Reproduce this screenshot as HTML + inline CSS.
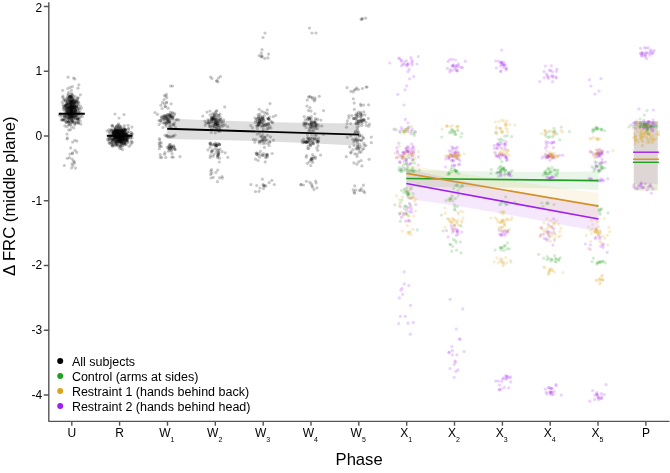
<!DOCTYPE html>
<html><head><meta charset="utf-8"><title>Phase plot</title>
<style>html,body{margin:0;padding:0;background:#fff}svg{display:block}</style>
</head><body>
<svg width="670" height="473" viewBox="0 0 670 473">
<defs><filter id="sb" x="0" y="0" width="670" height="473" filterUnits="userSpaceOnUse"><feGaussianBlur stdDeviation="0.4"/></filter></defs>
<rect width="670" height="473" fill="#fff"/>
<polygon points="167.2,118.5 215.0,120.5 263.0,122.0 311.0,122.9 359.0,123.4 359.0,145.8 311.0,143.3 263.0,141.2 215.0,139.9 167.2,138.9" fill="#000" fill-opacity="0.13"/>
<polygon points="406.3,169.7 454.4,171.1 502.4,171.8 550.5,172.0 598.5,171.5 598.5,189.9 550.5,188.3 502.4,187.4 454.4,187.1 406.3,187.3" fill="#22a022" fill-opacity="0.1"/>
<polygon points="406.3,165.0 454.4,172.5 502.4,179.7 550.5,186.4 598.5,193.1 598.5,219.1 550.5,209.4 502.4,199.7 454.4,190.5 406.3,181.6" fill="#daa520" fill-opacity="0.1"/>
<polygon points="406.3,168.5 454.4,179.4 502.4,188.9 550.5,197.8 598.5,206.5 598.5,231.5 550.5,222.4 502.4,213.6 454.4,205.4 406.3,198.5" fill="#a020f0" fill-opacity="0.1"/>
<rect x="633.8" y="121" width="23.9" height="69.5" fill="#22a022" fill-opacity="0.11"/>
<rect x="633.8" y="121" width="23.9" height="69.5" fill="#daa520" fill-opacity="0.11"/>
<rect x="633.8" y="121" width="23.9" height="62.9" fill="#a020f0" fill-opacity="0.11"/>
<g fill="#000" fill-opacity="0.215" filter="url(#sb)">
<circle cx="71.8" cy="112.1" r="1.6"/><circle cx="73.1" cy="122.0" r="1.6"/><circle cx="70.6" cy="112.8" r="1.6"/><circle cx="68.0" cy="108.9" r="1.6"/><circle cx="69.8" cy="96.4" r="1.6"/><circle cx="67.5" cy="111.3" r="1.6"/><circle cx="72.1" cy="94.5" r="1.6"/><circle cx="77.6" cy="98.4" r="1.6"/><circle cx="69.7" cy="114.7" r="1.6"/><circle cx="69.1" cy="113.6" r="1.6"/><circle cx="73.9" cy="107.4" r="1.6"/><circle cx="73.3" cy="96.2" r="1.6"/><circle cx="72.3" cy="105.8" r="1.6"/><circle cx="67.8" cy="103.6" r="1.6"/><circle cx="71.7" cy="113.1" r="1.6"/><circle cx="74.8" cy="124.8" r="1.6"/><circle cx="66.0" cy="110.1" r="1.6"/><circle cx="69.8" cy="102.9" r="1.6"/><circle cx="63.6" cy="100.1" r="1.6"/><circle cx="66.3" cy="108.1" r="1.6"/><circle cx="63.9" cy="107.2" r="1.6"/><circle cx="70.8" cy="100.2" r="1.6"/><circle cx="66.3" cy="109.3" r="1.6"/><circle cx="73.0" cy="100.2" r="1.6"/><circle cx="72.5" cy="116.5" r="1.6"/><circle cx="71.0" cy="116.2" r="1.6"/><circle cx="61.0" cy="116.3" r="1.6"/><circle cx="69.5" cy="105.1" r="1.6"/><circle cx="71.6" cy="112.2" r="1.6"/><circle cx="72.3" cy="107.5" r="1.6"/><circle cx="65.2" cy="105.7" r="1.6"/><circle cx="69.7" cy="106.1" r="1.6"/><circle cx="67.6" cy="99.1" r="1.6"/><circle cx="68.3" cy="98.1" r="1.6"/><circle cx="76.4" cy="114.2" r="1.6"/><circle cx="68.3" cy="107.1" r="1.6"/><circle cx="71.7" cy="110.1" r="1.6"/><circle cx="75.6" cy="115.7" r="1.6"/><circle cx="69.3" cy="96.0" r="1.6"/><circle cx="71.3" cy="102.9" r="1.6"/><circle cx="72.3" cy="109.8" r="1.6"/><circle cx="72.1" cy="111.3" r="1.6"/><circle cx="66.5" cy="105.8" r="1.6"/><circle cx="72.1" cy="115.9" r="1.6"/><circle cx="77.6" cy="110.0" r="1.6"/><circle cx="65.1" cy="99.8" r="1.6"/><circle cx="75.5" cy="101.8" r="1.6"/><circle cx="72.3" cy="114.3" r="1.6"/><circle cx="69.0" cy="111.8" r="1.6"/><circle cx="80.4" cy="94.8" r="1.6"/><circle cx="75.1" cy="118.2" r="1.6"/><circle cx="66.6" cy="112.8" r="1.6"/><circle cx="72.1" cy="118.2" r="1.6"/><circle cx="74.3" cy="105.7" r="1.6"/><circle cx="71.0" cy="106.4" r="1.6"/><circle cx="74.7" cy="100.4" r="1.6"/><circle cx="71.5" cy="126.8" r="1.6"/><circle cx="74.7" cy="107.2" r="1.6"/><circle cx="78.0" cy="119.9" r="1.6"/><circle cx="68.9" cy="103.8" r="1.6"/><circle cx="72.7" cy="109.7" r="1.6"/><circle cx="69.8" cy="96.5" r="1.6"/><circle cx="72.3" cy="105.7" r="1.6"/><circle cx="66.7" cy="115.6" r="1.6"/><circle cx="69.3" cy="99.5" r="1.6"/><circle cx="71.0" cy="116.2" r="1.6"/><circle cx="75.7" cy="110.9" r="1.6"/><circle cx="76.7" cy="101.0" r="1.6"/><circle cx="66.1" cy="104.9" r="1.6"/><circle cx="68.4" cy="105.2" r="1.6"/><circle cx="74.6" cy="108.1" r="1.6"/><circle cx="63.2" cy="104.6" r="1.6"/><circle cx="69.8" cy="102.5" r="1.6"/><circle cx="71.4" cy="106.3" r="1.6"/><circle cx="77.2" cy="101.1" r="1.6"/><circle cx="74.8" cy="99.2" r="1.6"/><circle cx="70.4" cy="108.2" r="1.6"/><circle cx="70.2" cy="114.9" r="1.6"/><circle cx="70.7" cy="97.5" r="1.6"/><circle cx="78.4" cy="108.5" r="1.6"/><circle cx="70.0" cy="103.8" r="1.6"/><circle cx="70.5" cy="101.5" r="1.6"/><circle cx="73.3" cy="114.6" r="1.6"/><circle cx="71.3" cy="104.8" r="1.6"/><circle cx="71.0" cy="119.3" r="1.6"/><circle cx="67.0" cy="102.9" r="1.6"/><circle cx="71.8" cy="111.3" r="1.6"/><circle cx="69.9" cy="106.9" r="1.6"/><circle cx="76.8" cy="103.1" r="1.6"/><circle cx="74.6" cy="112.7" r="1.6"/><circle cx="71.7" cy="107.4" r="1.6"/><circle cx="74.7" cy="112.8" r="1.6"/><circle cx="70.3" cy="108.2" r="1.6"/><circle cx="76.3" cy="100.7" r="1.6"/><circle cx="71.8" cy="107.8" r="1.6"/><circle cx="74.3" cy="108.9" r="1.6"/><circle cx="66.2" cy="115.4" r="1.6"/><circle cx="73.3" cy="102.0" r="1.6"/><circle cx="64.5" cy="108.2" r="1.6"/><circle cx="63.0" cy="96.1" r="1.6"/><circle cx="70.5" cy="113.2" r="1.6"/><circle cx="67.9" cy="100.7" r="1.6"/><circle cx="72.5" cy="95.5" r="1.6"/><circle cx="81.5" cy="108.1" r="1.6"/><circle cx="68.2" cy="116.5" r="1.6"/><circle cx="69.1" cy="97.5" r="1.6"/><circle cx="72.7" cy="100.7" r="1.6"/><circle cx="73.9" cy="103.1" r="1.6"/><circle cx="71.0" cy="100.4" r="1.6"/><circle cx="70.9" cy="111.2" r="1.6"/><circle cx="74.8" cy="102.7" r="1.6"/><circle cx="74.0" cy="103.3" r="1.6"/><circle cx="67.4" cy="112.7" r="1.6"/><circle cx="71.5" cy="103.1" r="1.6"/><circle cx="72.0" cy="111.6" r="1.6"/><circle cx="67.3" cy="101.5" r="1.6"/><circle cx="72.9" cy="99.8" r="1.6"/><circle cx="68.1" cy="95.3" r="1.6"/><circle cx="76.0" cy="121.9" r="1.6"/><circle cx="72.6" cy="106.2" r="1.6"/><circle cx="72.2" cy="110.3" r="1.6"/><circle cx="69.3" cy="108.3" r="1.6"/><circle cx="71.3" cy="109.7" r="1.6"/><circle cx="63.2" cy="108.9" r="1.6"/><circle cx="66.9" cy="122.2" r="1.6"/><circle cx="73.4" cy="101.0" r="1.6"/><circle cx="62.6" cy="97.3" r="1.6"/><circle cx="75.4" cy="101.2" r="1.6"/><circle cx="64.3" cy="98.9" r="1.6"/><circle cx="75.1" cy="113.9" r="1.6"/><circle cx="68.2" cy="114.4" r="1.6"/><circle cx="75.1" cy="101.6" r="1.6"/><circle cx="72.4" cy="98.5" r="1.6"/><circle cx="65.2" cy="105.9" r="1.6"/><circle cx="77.2" cy="118.5" r="1.6"/><circle cx="78.0" cy="88.2" r="1.6"/><circle cx="71.5" cy="112.3" r="1.6"/><circle cx="70.6" cy="100.8" r="1.6"/><circle cx="71.1" cy="116.0" r="1.6"/><circle cx="67.6" cy="100.7" r="1.6"/><circle cx="76.5" cy="106.4" r="1.6"/><circle cx="69.5" cy="97.7" r="1.6"/><circle cx="71.6" cy="101.5" r="1.6"/><circle cx="68.4" cy="118.5" r="1.6"/><circle cx="69.1" cy="114.4" r="1.6"/><circle cx="66.3" cy="105.6" r="1.6"/><circle cx="77.2" cy="102.2" r="1.6"/><circle cx="71.1" cy="94.9" r="1.6"/><circle cx="76.0" cy="105.7" r="1.6"/><circle cx="71.9" cy="108.3" r="1.6"/><circle cx="68.8" cy="107.9" r="1.6"/><circle cx="70.4" cy="107.8" r="1.6"/><circle cx="69.4" cy="100.4" r="1.6"/><circle cx="71.8" cy="108.0" r="1.6"/><circle cx="70.2" cy="108.2" r="1.6"/><circle cx="70.5" cy="117.8" r="1.6"/><circle cx="65.9" cy="121.9" r="1.6"/><circle cx="68.3" cy="107.5" r="1.6"/><circle cx="78.9" cy="103.0" r="1.6"/><circle cx="68.9" cy="108.0" r="1.6"/><circle cx="67.3" cy="104.1" r="1.6"/><circle cx="73.3" cy="103.2" r="1.6"/><circle cx="77.9" cy="108.1" r="1.6"/><circle cx="65.5" cy="101.0" r="1.6"/><circle cx="70.9" cy="112.9" r="1.6"/><circle cx="69.1" cy="107.8" r="1.6"/><circle cx="64.2" cy="110.3" r="1.6"/><circle cx="75.0" cy="107.2" r="1.6"/><circle cx="71.7" cy="103.3" r="1.6"/><circle cx="72.1" cy="101.7" r="1.6"/><circle cx="68.6" cy="106.8" r="1.6"/><circle cx="73.8" cy="104.5" r="1.6"/><circle cx="69.5" cy="110.2" r="1.6"/><circle cx="71.2" cy="108.5" r="1.6"/><circle cx="67.0" cy="98.7" r="1.6"/><circle cx="66.6" cy="109.0" r="1.6"/><circle cx="77.5" cy="98.8" r="1.6"/><circle cx="69.6" cy="104.1" r="1.6"/><circle cx="73.1" cy="106.4" r="1.6"/><circle cx="71.7" cy="93.6" r="1.6"/><circle cx="69.9" cy="109.2" r="1.6"/><circle cx="69.6" cy="109.6" r="1.6"/><circle cx="74.5" cy="107.4" r="1.6"/><circle cx="70.5" cy="105.4" r="1.6"/><circle cx="71.1" cy="105.8" r="1.6"/><circle cx="71.9" cy="101.5" r="1.6"/><circle cx="76.9" cy="106.6" r="1.6"/><circle cx="74.7" cy="104.5" r="1.6"/><circle cx="73.4" cy="109.2" r="1.6"/><circle cx="69.4" cy="99.8" r="1.6"/><circle cx="65.9" cy="110.2" r="1.6"/><circle cx="75.9" cy="109.5" r="1.6"/><circle cx="76.0" cy="107.5" r="1.6"/><circle cx="71.2" cy="105.3" r="1.6"/><circle cx="74.1" cy="112.5" r="1.6"/><circle cx="75.2" cy="96.5" r="1.6"/><circle cx="75.4" cy="111.8" r="1.6"/><circle cx="75.8" cy="110.2" r="1.6"/><circle cx="69.8" cy="110.5" r="1.6"/><circle cx="78.3" cy="111.3" r="1.6"/><circle cx="66.4" cy="103.8" r="1.6"/><circle cx="75.5" cy="106.6" r="1.6"/><circle cx="73.9" cy="113.1" r="1.6"/><circle cx="75.6" cy="111.6" r="1.6"/><circle cx="79.9" cy="110.0" r="1.6"/><circle cx="78.2" cy="97.6" r="1.6"/><circle cx="66.9" cy="112.4" r="1.6"/><circle cx="64.5" cy="116.9" r="1.6"/><circle cx="75.3" cy="115.8" r="1.6"/><circle cx="67.4" cy="110.2" r="1.6"/><circle cx="71.7" cy="97.3" r="1.6"/><circle cx="75.4" cy="115.3" r="1.6"/><circle cx="64.7" cy="107.4" r="1.6"/><circle cx="62.7" cy="90.3" r="1.6"/><circle cx="72.9" cy="111.2" r="1.6"/><circle cx="72.0" cy="97.8" r="1.6"/><circle cx="70.7" cy="99.2" r="1.6"/><circle cx="72.0" cy="103.9" r="1.6"/><circle cx="68.1" cy="117.7" r="1.6"/><circle cx="65.3" cy="105.8" r="1.6"/><circle cx="71.1" cy="110.5" r="1.6"/><circle cx="67.6" cy="121.1" r="1.6"/><circle cx="64.7" cy="120.0" r="1.6"/><circle cx="74.0" cy="107.8" r="1.6"/><circle cx="71.5" cy="106.8" r="1.6"/><circle cx="73.5" cy="99.4" r="1.6"/><circle cx="67.5" cy="103.5" r="1.6"/><circle cx="69.0" cy="111.6" r="1.6"/><circle cx="67.5" cy="111.3" r="1.6"/><circle cx="68.0" cy="109.3" r="1.6"/><circle cx="72.6" cy="115.7" r="1.6"/><circle cx="68.4" cy="102.9" r="1.6"/><circle cx="73.3" cy="108.1" r="1.6"/><circle cx="73.3" cy="113.8" r="1.6"/><circle cx="80.5" cy="112.7" r="1.6"/><circle cx="65.8" cy="116.2" r="1.6"/><circle cx="75.6" cy="111.4" r="1.6"/><circle cx="71.4" cy="106.3" r="1.6"/><circle cx="71.7" cy="111.1" r="1.6"/><circle cx="65.6" cy="101.3" r="1.6"/><circle cx="69.8" cy="96.7" r="1.6"/><circle cx="75.0" cy="112.7" r="1.6"/><circle cx="71.4" cy="108.1" r="1.6"/><circle cx="72.1" cy="110.7" r="1.6"/><circle cx="70.5" cy="96.3" r="1.6"/><circle cx="76.8" cy="105.9" r="1.6"/><circle cx="71.7" cy="104.2" r="1.6"/><circle cx="62.3" cy="102.3" r="1.6"/><circle cx="68.8" cy="92.3" r="1.6"/><circle cx="63.3" cy="106.1" r="1.6"/><circle cx="59.3" cy="115.0" r="1.6"/><circle cx="69.5" cy="111.2" r="1.6"/><circle cx="77.5" cy="104.2" r="1.6"/><circle cx="72.0" cy="108.4" r="1.6"/><circle cx="66.8" cy="113.9" r="1.6"/><circle cx="67.8" cy="88.6" r="1.6"/><circle cx="76.7" cy="107.6" r="1.6"/><circle cx="72.5" cy="112.4" r="1.6"/><circle cx="72.0" cy="113.4" r="1.6"/><circle cx="71.6" cy="120.7" r="1.6"/><circle cx="72.0" cy="116.7" r="1.6"/><circle cx="75.3" cy="110.8" r="1.6"/><circle cx="74.2" cy="110.7" r="1.6"/><circle cx="72.7" cy="114.2" r="1.6"/><circle cx="67.3" cy="104.6" r="1.6"/><circle cx="74.0" cy="108.2" r="1.6"/><circle cx="68.9" cy="115.0" r="1.6"/><circle cx="76.5" cy="122.6" r="1.6"/><circle cx="66.3" cy="107.4" r="1.6"/><circle cx="71.2" cy="108.2" r="1.6"/><circle cx="71.8" cy="109.9" r="1.6"/><circle cx="66.1" cy="118.2" r="1.6"/><circle cx="79.2" cy="108.3" r="1.6"/><circle cx="78.1" cy="119.1" r="1.6"/><circle cx="69.8" cy="101.5" r="1.6"/><circle cx="75.1" cy="107.2" r="1.6"/><circle cx="73.4" cy="107.1" r="1.6"/><circle cx="60.6" cy="114.2" r="1.6"/><circle cx="72.9" cy="116.0" r="1.6"/><circle cx="71.5" cy="97.6" r="1.6"/><circle cx="72.2" cy="101.9" r="1.6"/><circle cx="67.2" cy="110.9" r="1.6"/><circle cx="70.6" cy="103.8" r="1.6"/><circle cx="71.0" cy="97.5" r="1.6"/><circle cx="76.9" cy="116.0" r="1.6"/><circle cx="73.2" cy="112.1" r="1.6"/><circle cx="71.8" cy="112.1" r="1.6"/><circle cx="78.4" cy="105.1" r="1.6"/><circle cx="69.4" cy="115.9" r="1.6"/><circle cx="70.1" cy="106.8" r="1.6"/><circle cx="64.0" cy="116.4" r="1.6"/><circle cx="78.5" cy="101.9" r="1.6"/><circle cx="75.9" cy="102.4" r="1.6"/><circle cx="75.7" cy="110.0" r="1.6"/><circle cx="74.7" cy="103.4" r="1.6"/><circle cx="72.3" cy="113.4" r="1.6"/><circle cx="72.7" cy="110.4" r="1.6"/><circle cx="70.7" cy="101.9" r="1.6"/><circle cx="70.9" cy="109.0" r="1.6"/><circle cx="72.0" cy="106.0" r="1.6"/><circle cx="78.3" cy="115.1" r="1.6"/><circle cx="74.2" cy="103.9" r="1.6"/><circle cx="71.5" cy="105.3" r="1.6"/><circle cx="69.3" cy="117.2" r="1.6"/><circle cx="69.1" cy="124.6" r="1.6"/><circle cx="78.7" cy="122.9" r="1.6"/><circle cx="74.0" cy="109.0" r="1.6"/><circle cx="72.1" cy="110.1" r="1.6"/><circle cx="70.3" cy="119.5" r="1.6"/><circle cx="67.0" cy="107.6" r="1.6"/><circle cx="71.5" cy="101.5" r="1.6"/><circle cx="75.6" cy="109.3" r="1.6"/><circle cx="70.1" cy="111.8" r="1.6"/><circle cx="70.8" cy="102.5" r="1.6"/><circle cx="70.8" cy="96.6" r="1.6"/><circle cx="72.3" cy="98.2" r="1.6"/><circle cx="65.0" cy="113.3" r="1.6"/><circle cx="70.8" cy="103.0" r="1.6"/><circle cx="68.1" cy="107.5" r="1.6"/><circle cx="75.6" cy="110.0" r="1.6"/><circle cx="68.5" cy="113.0" r="1.6"/><circle cx="74.3" cy="106.1" r="1.6"/><circle cx="78.4" cy="112.1" r="1.6"/><circle cx="70.5" cy="102.1" r="1.6"/><circle cx="69.2" cy="105.9" r="1.6"/><circle cx="72.6" cy="101.1" r="1.6"/><circle cx="71.8" cy="116.6" r="1.6"/><circle cx="67.5" cy="108.3" r="1.6"/><circle cx="73.8" cy="103.2" r="1.6"/><circle cx="80.5" cy="106.0" r="1.6"/><circle cx="70.7" cy="106.9" r="1.6"/><circle cx="70.9" cy="113.5" r="1.6"/><circle cx="67.3" cy="97.0" r="1.6"/><circle cx="73.2" cy="101.0" r="1.6"/><circle cx="66.4" cy="105.8" r="1.6"/><circle cx="67.0" cy="126.7" r="1.6"/><circle cx="77.3" cy="115.4" r="1.6"/><circle cx="67.9" cy="107.7" r="1.6"/><circle cx="76.4" cy="113.6" r="1.6"/><circle cx="78.4" cy="123.3" r="1.6"/><circle cx="72.9" cy="106.8" r="1.6"/><circle cx="74.2" cy="105.9" r="1.6"/><circle cx="80.2" cy="117.2" r="1.6"/><circle cx="71.0" cy="112.1" r="1.6"/><circle cx="69.3" cy="113.3" r="1.6"/><circle cx="66.0" cy="104.8" r="1.6"/><circle cx="72.0" cy="122.4" r="1.6"/><circle cx="78.2" cy="120.8" r="1.6"/><circle cx="75.9" cy="112.6" r="1.6"/><circle cx="67.7" cy="113.4" r="1.6"/><circle cx="68.1" cy="93.9" r="1.6"/><circle cx="69.6" cy="113.1" r="1.6"/><circle cx="73.1" cy="107.1" r="1.6"/><circle cx="70.9" cy="111.6" r="1.6"/><circle cx="72.7" cy="113.4" r="1.6"/><circle cx="73.1" cy="106.0" r="1.6"/><circle cx="70.5" cy="96.3" r="1.6"/><circle cx="71.6" cy="111.1" r="1.6"/><circle cx="72.7" cy="103.2" r="1.6"/><circle cx="71.4" cy="106.1" r="1.6"/><circle cx="69.0" cy="121.6" r="1.6"/><circle cx="70.2" cy="118.0" r="1.6"/><circle cx="61.2" cy="120.1" r="1.6"/><circle cx="77.4" cy="119.0" r="1.6"/><circle cx="73.0" cy="121.3" r="1.6"/><circle cx="76.9" cy="118.7" r="1.6"/><circle cx="80.9" cy="124.1" r="1.6"/><circle cx="71.9" cy="120.4" r="1.6"/><circle cx="63.5" cy="120.3" r="1.6"/><circle cx="67.7" cy="120.3" r="1.6"/><circle cx="66.2" cy="111.9" r="1.6"/><circle cx="69.5" cy="117.8" r="1.6"/><circle cx="72.2" cy="117.3" r="1.6"/><circle cx="62.6" cy="119.4" r="1.6"/><circle cx="73.4" cy="112.4" r="1.6"/><circle cx="64.9" cy="125.9" r="1.6"/><circle cx="73.2" cy="119.0" r="1.6"/><circle cx="71.3" cy="113.0" r="1.6"/><circle cx="70.4" cy="110.8" r="1.6"/><circle cx="71.5" cy="117.2" r="1.6"/><circle cx="69.3" cy="118.1" r="1.6"/><circle cx="69.0" cy="115.3" r="1.6"/><circle cx="64.1" cy="118.9" r="1.6"/><circle cx="71.7" cy="115.6" r="1.6"/><circle cx="80.3" cy="121.0" r="1.6"/><circle cx="80.9" cy="115.2" r="1.6"/><circle cx="77.9" cy="118.3" r="1.6"/><circle cx="75.0" cy="122.9" r="1.6"/><circle cx="68.7" cy="130.1" r="1.6"/><circle cx="78.4" cy="114.0" r="1.6"/><circle cx="71.5" cy="116.4" r="1.6"/><circle cx="71.5" cy="114.7" r="1.6"/><circle cx="70.5" cy="122.0" r="1.6"/><circle cx="72.2" cy="113.3" r="1.6"/><circle cx="69.8" cy="116.3" r="1.6"/><circle cx="71.4" cy="118.4" r="1.6"/><circle cx="66.8" cy="114.1" r="1.6"/><circle cx="70.1" cy="114.2" r="1.6"/><circle cx="82.3" cy="116.4" r="1.6"/><circle cx="71.5" cy="109.0" r="1.6"/><circle cx="70.7" cy="112.0" r="1.6"/><circle cx="74.2" cy="116.6" r="1.6"/><circle cx="75.1" cy="119.2" r="1.6"/><circle cx="66.7" cy="117.7" r="1.6"/><circle cx="70.8" cy="110.5" r="1.6"/><circle cx="76.0" cy="116.4" r="1.6"/><circle cx="73.0" cy="122.1" r="1.6"/><circle cx="72.4" cy="121.0" r="1.6"/><circle cx="78.9" cy="118.1" r="1.6"/><circle cx="68.7" cy="114.5" r="1.6"/><circle cx="72.2" cy="121.3" r="1.6"/><circle cx="69.4" cy="115.9" r="1.6"/><circle cx="78.7" cy="113.2" r="1.6"/><circle cx="62.8" cy="114.9" r="1.6"/><circle cx="68.7" cy="125.0" r="1.6"/><circle cx="69.4" cy="119.5" r="1.6"/><circle cx="74.9" cy="123.7" r="1.6"/><circle cx="74.6" cy="116.3" r="1.6"/><circle cx="78.2" cy="122.7" r="1.6"/><circle cx="64.6" cy="115.8" r="1.6"/><circle cx="75.3" cy="117.8" r="1.6"/><circle cx="70.5" cy="129.7" r="1.6"/><circle cx="68.7" cy="122.0" r="1.6"/><circle cx="74.3" cy="116.2" r="1.6"/><circle cx="67.6" cy="118.1" r="1.6"/><circle cx="62.2" cy="120.0" r="1.6"/><circle cx="70.1" cy="123.9" r="1.6"/><circle cx="64.9" cy="116.3" r="1.6"/><circle cx="68.8" cy="110.7" r="1.6"/><circle cx="73.5" cy="117.2" r="1.6"/><circle cx="73.2" cy="118.6" r="1.6"/><circle cx="79.1" cy="119.0" r="1.6"/><circle cx="70.9" cy="124.4" r="1.6"/><circle cx="64.7" cy="119.9" r="1.6"/><circle cx="68.3" cy="122.2" r="1.6"/><circle cx="67.6" cy="113.5" r="1.6"/><circle cx="66.2" cy="122.4" r="1.6"/><circle cx="73.8" cy="127.9" r="1.6"/><circle cx="68.8" cy="122.0" r="1.6"/><circle cx="62.7" cy="119.6" r="1.6"/><circle cx="72.4" cy="86.6" r="1.6"/><circle cx="78.9" cy="84.8" r="1.6"/><circle cx="68.1" cy="77.2" r="1.6"/><circle cx="71.4" cy="90.4" r="1.6"/><circle cx="73.6" cy="78.0" r="1.6"/><circle cx="74.8" cy="78.9" r="1.6"/><circle cx="70.1" cy="87.4" r="1.6"/><circle cx="67.4" cy="137.9" r="1.6"/><circle cx="70.7" cy="147.9" r="1.6"/><circle cx="74.8" cy="140.4" r="1.6"/><circle cx="67.0" cy="139.0" r="1.6"/><circle cx="72.6" cy="142.1" r="1.6"/><circle cx="67.0" cy="134.1" r="1.6"/><circle cx="76.9" cy="141.1" r="1.6"/><circle cx="67.2" cy="158.3" r="1.6"/><circle cx="75.5" cy="168.1" r="1.6"/><circle cx="71.6" cy="168.0" r="1.6"/><circle cx="76.7" cy="152.4" r="1.6"/><circle cx="72.5" cy="152.9" r="1.6"/><circle cx="69.4" cy="157.7" r="1.6"/><circle cx="72.8" cy="165.8" r="1.6"/><circle cx="74.4" cy="161.9" r="1.6"/><circle cx="71.9" cy="163.9" r="1.6"/><circle cx="73.5" cy="160.9" r="1.6"/><circle cx="70.0" cy="154.0" r="1.6"/><circle cx="64.3" cy="165.5" r="1.6"/><circle cx="75.0" cy="150.3" r="1.6"/><circle cx="74.2" cy="163.3" r="1.6"/><circle cx="72.3" cy="153.7" r="1.6"/><circle cx="72.0" cy="159.0" r="1.6"/><circle cx="125.2" cy="134.2" r="1.6"/><circle cx="117.6" cy="135.1" r="1.6"/><circle cx="121.5" cy="130.4" r="1.6"/><circle cx="123.0" cy="143.6" r="1.6"/><circle cx="116.6" cy="138.3" r="1.6"/><circle cx="121.3" cy="144.2" r="1.6"/><circle cx="119.5" cy="139.7" r="1.6"/><circle cx="117.1" cy="142.9" r="1.6"/><circle cx="117.3" cy="134.9" r="1.6"/><circle cx="120.0" cy="139.3" r="1.6"/><circle cx="119.8" cy="148.4" r="1.6"/><circle cx="117.0" cy="130.4" r="1.6"/><circle cx="117.6" cy="141.4" r="1.6"/><circle cx="124.9" cy="143.8" r="1.6"/><circle cx="120.6" cy="137.9" r="1.6"/><circle cx="123.8" cy="139.5" r="1.6"/><circle cx="125.3" cy="141.9" r="1.6"/><circle cx="122.4" cy="132.9" r="1.6"/><circle cx="130.3" cy="137.9" r="1.6"/><circle cx="115.8" cy="131.9" r="1.6"/><circle cx="123.4" cy="132.8" r="1.6"/><circle cx="118.1" cy="133.1" r="1.6"/><circle cx="128.4" cy="135.3" r="1.6"/><circle cx="127.6" cy="136.7" r="1.6"/><circle cx="110.5" cy="138.1" r="1.6"/><circle cx="115.1" cy="129.3" r="1.6"/><circle cx="122.8" cy="145.3" r="1.6"/><circle cx="123.4" cy="141.4" r="1.6"/><circle cx="123.1" cy="139.4" r="1.6"/><circle cx="119.3" cy="134.3" r="1.6"/><circle cx="121.8" cy="135.6" r="1.6"/><circle cx="122.7" cy="138.6" r="1.6"/><circle cx="119.3" cy="137.9" r="1.6"/><circle cx="124.5" cy="128.1" r="1.6"/><circle cx="109.0" cy="139.5" r="1.6"/><circle cx="122.6" cy="149.7" r="1.6"/><circle cx="114.8" cy="127.3" r="1.6"/><circle cx="124.1" cy="140.7" r="1.6"/><circle cx="118.6" cy="137.7" r="1.6"/><circle cx="115.5" cy="135.5" r="1.6"/><circle cx="121.4" cy="142.5" r="1.6"/><circle cx="115.4" cy="130.4" r="1.6"/><circle cx="115.3" cy="136.8" r="1.6"/><circle cx="112.3" cy="142.9" r="1.6"/><circle cx="119.5" cy="135.1" r="1.6"/><circle cx="122.0" cy="134.0" r="1.6"/><circle cx="124.4" cy="136.5" r="1.6"/><circle cx="119.0" cy="133.9" r="1.6"/><circle cx="124.6" cy="143.3" r="1.6"/><circle cx="119.7" cy="131.7" r="1.6"/><circle cx="119.2" cy="140.1" r="1.6"/><circle cx="122.3" cy="130.1" r="1.6"/><circle cx="124.6" cy="139.2" r="1.6"/><circle cx="118.0" cy="135.5" r="1.6"/><circle cx="118.5" cy="123.8" r="1.6"/><circle cx="118.9" cy="136.0" r="1.6"/><circle cx="120.0" cy="131.0" r="1.6"/><circle cx="115.4" cy="133.9" r="1.6"/><circle cx="124.5" cy="143.3" r="1.6"/><circle cx="117.8" cy="130.7" r="1.6"/><circle cx="121.8" cy="131.0" r="1.6"/><circle cx="115.8" cy="142.8" r="1.6"/><circle cx="121.3" cy="136.5" r="1.6"/><circle cx="121.5" cy="143.3" r="1.6"/><circle cx="117.7" cy="137.5" r="1.6"/><circle cx="129.1" cy="131.8" r="1.6"/><circle cx="121.4" cy="135.7" r="1.6"/><circle cx="128.0" cy="141.8" r="1.6"/><circle cx="124.1" cy="140.5" r="1.6"/><circle cx="116.5" cy="136.0" r="1.6"/><circle cx="117.8" cy="136.2" r="1.6"/><circle cx="121.7" cy="135.5" r="1.6"/><circle cx="119.9" cy="133.3" r="1.6"/><circle cx="119.9" cy="145.1" r="1.6"/><circle cx="118.3" cy="136.0" r="1.6"/><circle cx="111.1" cy="130.7" r="1.6"/><circle cx="118.6" cy="133.7" r="1.6"/><circle cx="109.2" cy="139.4" r="1.6"/><circle cx="121.4" cy="139.0" r="1.6"/><circle cx="116.2" cy="135.4" r="1.6"/><circle cx="116.3" cy="132.8" r="1.6"/><circle cx="118.6" cy="136.1" r="1.6"/><circle cx="120.9" cy="128.1" r="1.6"/><circle cx="112.9" cy="129.8" r="1.6"/><circle cx="111.4" cy="139.8" r="1.6"/><circle cx="114.6" cy="133.7" r="1.6"/><circle cx="110.0" cy="137.8" r="1.6"/><circle cx="115.1" cy="141.8" r="1.6"/><circle cx="127.1" cy="139.1" r="1.6"/><circle cx="114.7" cy="136.1" r="1.6"/><circle cx="122.7" cy="146.1" r="1.6"/><circle cx="113.2" cy="139.2" r="1.6"/><circle cx="121.0" cy="134.3" r="1.6"/><circle cx="118.1" cy="139.5" r="1.6"/><circle cx="119.4" cy="137.9" r="1.6"/><circle cx="122.3" cy="132.0" r="1.6"/><circle cx="127.9" cy="136.3" r="1.6"/><circle cx="120.6" cy="135.2" r="1.6"/><circle cx="120.2" cy="126.7" r="1.6"/><circle cx="115.1" cy="135.2" r="1.6"/><circle cx="122.4" cy="134.7" r="1.6"/><circle cx="118.5" cy="133.9" r="1.6"/><circle cx="123.6" cy="128.2" r="1.6"/><circle cx="119.4" cy="134.3" r="1.6"/><circle cx="127.8" cy="135.8" r="1.6"/><circle cx="110.3" cy="136.5" r="1.6"/><circle cx="118.2" cy="130.6" r="1.6"/><circle cx="123.8" cy="139.0" r="1.6"/><circle cx="118.0" cy="130.3" r="1.6"/><circle cx="115.9" cy="134.9" r="1.6"/><circle cx="118.4" cy="142.2" r="1.6"/><circle cx="113.2" cy="132.7" r="1.6"/><circle cx="120.2" cy="133.6" r="1.6"/><circle cx="131.1" cy="141.1" r="1.6"/><circle cx="125.0" cy="134.2" r="1.6"/><circle cx="114.4" cy="134.6" r="1.6"/><circle cx="115.5" cy="137.0" r="1.6"/><circle cx="117.7" cy="141.0" r="1.6"/><circle cx="124.4" cy="125.6" r="1.6"/><circle cx="115.8" cy="132.1" r="1.6"/><circle cx="116.4" cy="131.2" r="1.6"/><circle cx="123.8" cy="130.9" r="1.6"/><circle cx="123.7" cy="132.0" r="1.6"/><circle cx="117.9" cy="132.0" r="1.6"/><circle cx="114.4" cy="137.4" r="1.6"/><circle cx="112.4" cy="131.8" r="1.6"/><circle cx="116.4" cy="136.6" r="1.6"/><circle cx="109.2" cy="137.9" r="1.6"/><circle cx="123.2" cy="132.6" r="1.6"/><circle cx="116.7" cy="136.6" r="1.6"/><circle cx="121.9" cy="143.7" r="1.6"/><circle cx="128.4" cy="137.5" r="1.6"/><circle cx="125.2" cy="133.0" r="1.6"/><circle cx="114.2" cy="135.7" r="1.6"/><circle cx="123.7" cy="131.7" r="1.6"/><circle cx="125.1" cy="137.3" r="1.6"/><circle cx="116.1" cy="140.1" r="1.6"/><circle cx="115.2" cy="132.1" r="1.6"/><circle cx="119.1" cy="135.0" r="1.6"/><circle cx="112.1" cy="141.2" r="1.6"/><circle cx="126.6" cy="133.7" r="1.6"/><circle cx="108.3" cy="136.9" r="1.6"/><circle cx="114.4" cy="131.2" r="1.6"/><circle cx="118.4" cy="132.2" r="1.6"/><circle cx="118.6" cy="133.6" r="1.6"/><circle cx="120.4" cy="146.0" r="1.6"/><circle cx="120.9" cy="134.1" r="1.6"/><circle cx="118.6" cy="133.6" r="1.6"/><circle cx="125.0" cy="133.4" r="1.6"/><circle cx="109.6" cy="135.2" r="1.6"/><circle cx="119.6" cy="139.0" r="1.6"/><circle cx="116.3" cy="136.9" r="1.6"/><circle cx="120.3" cy="145.5" r="1.6"/><circle cx="120.7" cy="137.0" r="1.6"/><circle cx="115.4" cy="142.7" r="1.6"/><circle cx="116.6" cy="137.3" r="1.6"/><circle cx="123.4" cy="138.8" r="1.6"/><circle cx="121.3" cy="129.4" r="1.6"/><circle cx="116.4" cy="135.4" r="1.6"/><circle cx="129.2" cy="135.7" r="1.6"/><circle cx="130.5" cy="134.9" r="1.6"/><circle cx="112.8" cy="126.1" r="1.6"/><circle cx="121.1" cy="140.1" r="1.6"/><circle cx="131.4" cy="134.2" r="1.6"/><circle cx="123.3" cy="134.0" r="1.6"/><circle cx="120.7" cy="134.8" r="1.6"/><circle cx="118.7" cy="135.0" r="1.6"/><circle cx="117.1" cy="137.9" r="1.6"/><circle cx="118.6" cy="130.2" r="1.6"/><circle cx="117.1" cy="131.7" r="1.6"/><circle cx="123.1" cy="137.3" r="1.6"/><circle cx="117.8" cy="136.7" r="1.6"/><circle cx="117.6" cy="134.3" r="1.6"/><circle cx="114.0" cy="133.4" r="1.6"/><circle cx="119.4" cy="132.2" r="1.6"/><circle cx="115.4" cy="135.7" r="1.6"/><circle cx="118.8" cy="141.4" r="1.6"/><circle cx="124.5" cy="131.1" r="1.6"/><circle cx="121.4" cy="143.0" r="1.6"/><circle cx="122.0" cy="139.9" r="1.6"/><circle cx="121.3" cy="133.9" r="1.6"/><circle cx="119.9" cy="139.6" r="1.6"/><circle cx="119.0" cy="129.3" r="1.6"/><circle cx="118.2" cy="128.0" r="1.6"/><circle cx="123.2" cy="130.1" r="1.6"/><circle cx="114.5" cy="134.1" r="1.6"/><circle cx="125.9" cy="134.5" r="1.6"/><circle cx="119.8" cy="133.6" r="1.6"/><circle cx="116.1" cy="136.5" r="1.6"/><circle cx="117.3" cy="126.2" r="1.6"/><circle cx="116.5" cy="138.3" r="1.6"/><circle cx="120.4" cy="129.5" r="1.6"/><circle cx="116.3" cy="133.0" r="1.6"/><circle cx="125.0" cy="134.1" r="1.6"/><circle cx="116.0" cy="130.7" r="1.6"/><circle cx="109.0" cy="129.7" r="1.6"/><circle cx="116.2" cy="131.4" r="1.6"/><circle cx="110.2" cy="135.9" r="1.6"/><circle cx="119.5" cy="138.7" r="1.6"/><circle cx="124.6" cy="138.6" r="1.6"/><circle cx="122.7" cy="131.4" r="1.6"/><circle cx="113.4" cy="132.4" r="1.6"/><circle cx="116.1" cy="131.8" r="1.6"/><circle cx="128.0" cy="138.1" r="1.6"/><circle cx="121.1" cy="126.6" r="1.6"/><circle cx="119.7" cy="141.7" r="1.6"/><circle cx="124.6" cy="133.8" r="1.6"/><circle cx="131.2" cy="132.4" r="1.6"/><circle cx="125.7" cy="137.6" r="1.6"/><circle cx="120.3" cy="140.8" r="1.6"/><circle cx="121.3" cy="137.6" r="1.6"/><circle cx="122.5" cy="140.8" r="1.6"/><circle cx="116.8" cy="136.6" r="1.6"/><circle cx="114.7" cy="141.7" r="1.6"/><circle cx="119.9" cy="141.7" r="1.6"/><circle cx="115.2" cy="135.5" r="1.6"/><circle cx="119.4" cy="142.6" r="1.6"/><circle cx="120.1" cy="136.8" r="1.6"/><circle cx="130.6" cy="136.4" r="1.6"/><circle cx="115.6" cy="131.8" r="1.6"/><circle cx="119.1" cy="134.7" r="1.6"/><circle cx="118.9" cy="139.6" r="1.6"/><circle cx="121.7" cy="130.0" r="1.6"/><circle cx="124.6" cy="139.0" r="1.6"/><circle cx="117.3" cy="137.6" r="1.6"/><circle cx="115.8" cy="137.3" r="1.6"/><circle cx="111.9" cy="125.9" r="1.6"/><circle cx="115.3" cy="135.5" r="1.6"/><circle cx="122.2" cy="139.0" r="1.6"/><circle cx="119.9" cy="132.5" r="1.6"/><circle cx="114.9" cy="136.4" r="1.6"/><circle cx="117.9" cy="125.1" r="1.6"/><circle cx="119.8" cy="139.1" r="1.6"/><circle cx="122.0" cy="133.0" r="1.6"/><circle cx="116.9" cy="140.0" r="1.6"/><circle cx="118.5" cy="127.5" r="1.6"/><circle cx="111.1" cy="139.2" r="1.6"/><circle cx="114.2" cy="134.9" r="1.6"/><circle cx="127.2" cy="139.7" r="1.6"/><circle cx="109.4" cy="131.7" r="1.6"/><circle cx="118.1" cy="133.2" r="1.6"/><circle cx="120.7" cy="146.3" r="1.6"/><circle cx="117.9" cy="132.2" r="1.6"/><circle cx="115.8" cy="132.8" r="1.6"/><circle cx="119.4" cy="134.7" r="1.6"/><circle cx="119.6" cy="131.3" r="1.6"/><circle cx="119.3" cy="141.5" r="1.6"/><circle cx="110.8" cy="143.9" r="1.6"/><circle cx="118.9" cy="132.8" r="1.6"/><circle cx="115.6" cy="128.1" r="1.6"/><circle cx="117.1" cy="141.4" r="1.6"/><circle cx="120.7" cy="141.1" r="1.6"/><circle cx="122.7" cy="139.8" r="1.6"/><circle cx="123.9" cy="141.3" r="1.6"/><circle cx="117.3" cy="132.0" r="1.6"/><circle cx="124.0" cy="135.2" r="1.6"/><circle cx="125.2" cy="129.6" r="1.6"/><circle cx="125.0" cy="129.5" r="1.6"/><circle cx="126.2" cy="140.5" r="1.6"/><circle cx="119.0" cy="132.9" r="1.6"/><circle cx="118.8" cy="146.5" r="1.6"/><circle cx="123.5" cy="136.3" r="1.6"/><circle cx="113.2" cy="133.1" r="1.6"/><circle cx="120.6" cy="139.7" r="1.6"/><circle cx="117.1" cy="144.3" r="1.6"/><circle cx="117.9" cy="138.2" r="1.6"/><circle cx="111.5" cy="130.4" r="1.6"/><circle cx="115.5" cy="137.7" r="1.6"/><circle cx="119.5" cy="142.3" r="1.6"/><circle cx="123.8" cy="133.7" r="1.6"/><circle cx="124.3" cy="132.4" r="1.6"/><circle cx="119.3" cy="140.7" r="1.6"/><circle cx="118.8" cy="136.6" r="1.6"/><circle cx="115.7" cy="130.9" r="1.6"/><circle cx="121.5" cy="134.3" r="1.6"/><circle cx="118.5" cy="132.5" r="1.6"/><circle cx="122.5" cy="137.4" r="1.6"/><circle cx="127.9" cy="136.5" r="1.6"/><circle cx="119.5" cy="141.3" r="1.6"/><circle cx="112.6" cy="139.3" r="1.6"/><circle cx="115.6" cy="128.8" r="1.6"/><circle cx="112.8" cy="137.9" r="1.6"/><circle cx="114.0" cy="140.1" r="1.6"/><circle cx="125.8" cy="138.1" r="1.6"/><circle cx="120.7" cy="140.7" r="1.6"/><circle cx="112.5" cy="133.5" r="1.6"/><circle cx="122.7" cy="131.6" r="1.6"/><circle cx="125.6" cy="140.3" r="1.6"/><circle cx="117.9" cy="131.1" r="1.6"/><circle cx="116.5" cy="126.1" r="1.6"/><circle cx="118.1" cy="140.7" r="1.6"/><circle cx="121.0" cy="132.7" r="1.6"/><circle cx="122.6" cy="134.6" r="1.6"/><circle cx="125.2" cy="129.6" r="1.6"/><circle cx="125.3" cy="129.9" r="1.6"/><circle cx="125.2" cy="130.7" r="1.6"/><circle cx="126.0" cy="134.3" r="1.6"/><circle cx="122.7" cy="137.7" r="1.6"/><circle cx="112.4" cy="125.4" r="1.6"/><circle cx="119.0" cy="139.5" r="1.6"/><circle cx="121.1" cy="130.6" r="1.6"/><circle cx="117.8" cy="131.1" r="1.6"/><circle cx="123.9" cy="139.1" r="1.6"/><circle cx="117.9" cy="135.7" r="1.6"/><circle cx="115.3" cy="128.9" r="1.6"/><circle cx="126.4" cy="144.5" r="1.6"/><circle cx="122.8" cy="132.0" r="1.6"/><circle cx="120.7" cy="137.1" r="1.6"/><circle cx="124.0" cy="136.9" r="1.6"/><circle cx="124.6" cy="142.5" r="1.6"/><circle cx="121.2" cy="133.9" r="1.6"/><circle cx="108.1" cy="140.6" r="1.6"/><circle cx="116.5" cy="132.6" r="1.6"/><circle cx="117.5" cy="141.2" r="1.6"/><circle cx="115.0" cy="132.5" r="1.6"/><circle cx="120.6" cy="134.3" r="1.6"/><circle cx="125.2" cy="144.7" r="1.6"/><circle cx="117.4" cy="137.5" r="1.6"/><circle cx="114.3" cy="136.5" r="1.6"/><circle cx="129.2" cy="146.3" r="1.6"/><circle cx="117.5" cy="137.7" r="1.6"/><circle cx="113.8" cy="132.2" r="1.6"/><circle cx="120.8" cy="139.4" r="1.6"/><circle cx="121.6" cy="130.6" r="1.6"/><circle cx="116.3" cy="141.2" r="1.6"/><circle cx="123.4" cy="141.5" r="1.6"/><circle cx="117.3" cy="133.4" r="1.6"/><circle cx="115.3" cy="133.1" r="1.6"/><circle cx="120.5" cy="136.8" r="1.6"/><circle cx="123.3" cy="136.1" r="1.6"/><circle cx="116.7" cy="131.5" r="1.6"/><circle cx="121.2" cy="138.6" r="1.6"/><circle cx="119.2" cy="126.6" r="1.6"/><circle cx="132.1" cy="134.0" r="1.6"/><circle cx="116.3" cy="134.1" r="1.6"/><circle cx="126.1" cy="134.7" r="1.6"/><circle cx="119.4" cy="137.4" r="1.6"/><circle cx="119.0" cy="130.4" r="1.6"/><circle cx="123.0" cy="138.7" r="1.6"/><circle cx="123.8" cy="135.2" r="1.6"/><circle cx="125.6" cy="133.0" r="1.6"/><circle cx="121.2" cy="129.7" r="1.6"/><circle cx="116.8" cy="130.6" r="1.6"/><circle cx="117.1" cy="137.7" r="1.6"/><circle cx="122.0" cy="131.6" r="1.6"/><circle cx="122.4" cy="136.3" r="1.6"/><circle cx="126.2" cy="140.9" r="1.6"/><circle cx="121.6" cy="140.8" r="1.6"/><circle cx="124.6" cy="143.2" r="1.6"/><circle cx="126.8" cy="134.6" r="1.6"/><circle cx="120.4" cy="131.0" r="1.6"/><circle cx="112.7" cy="140.7" r="1.6"/><circle cx="114.1" cy="137.4" r="1.6"/><circle cx="112.9" cy="141.2" r="1.6"/><circle cx="127.1" cy="136.1" r="1.6"/><circle cx="115.7" cy="141.5" r="1.6"/><circle cx="125.4" cy="139.9" r="1.6"/><circle cx="122.4" cy="139.3" r="1.6"/><circle cx="127.7" cy="138.3" r="1.6"/><circle cx="124.4" cy="137.8" r="1.6"/><circle cx="119.2" cy="137.1" r="1.6"/><circle cx="118.7" cy="137.0" r="1.6"/><circle cx="120.0" cy="140.6" r="1.6"/><circle cx="120.5" cy="133.6" r="1.6"/><circle cx="117.1" cy="144.0" r="1.6"/><circle cx="119.5" cy="135.5" r="1.6"/><circle cx="127.2" cy="140.5" r="1.6"/><circle cx="111.6" cy="135.6" r="1.6"/><circle cx="120.9" cy="134.9" r="1.6"/><circle cx="115.4" cy="145.3" r="1.6"/><circle cx="120.5" cy="134.6" r="1.6"/><circle cx="123.6" cy="130.1" r="1.6"/><circle cx="119.4" cy="132.7" r="1.6"/><circle cx="123.3" cy="134.5" r="1.6"/><circle cx="112.2" cy="145.9" r="1.6"/><circle cx="124.8" cy="137.0" r="1.6"/><circle cx="116.8" cy="140.3" r="1.6"/><circle cx="122.6" cy="131.4" r="1.6"/><circle cx="120.5" cy="137.6" r="1.6"/><circle cx="107.5" cy="139.1" r="1.6"/><circle cx="116.1" cy="144.3" r="1.6"/><circle cx="120.7" cy="132.8" r="1.6"/><circle cx="126.9" cy="138.8" r="1.6"/><circle cx="121.0" cy="137.4" r="1.6"/><circle cx="120.9" cy="131.3" r="1.6"/><circle cx="113.0" cy="135.9" r="1.6"/><circle cx="126.4" cy="134.8" r="1.6"/><circle cx="128.1" cy="125.3" r="1.6"/><circle cx="119.8" cy="138.8" r="1.6"/><circle cx="118.6" cy="138.5" r="1.6"/><circle cx="112.0" cy="134.0" r="1.6"/><circle cx="123.8" cy="129.8" r="1.6"/><circle cx="132.1" cy="142.8" r="1.6"/><circle cx="123.0" cy="137.2" r="1.6"/><circle cx="125.6" cy="140.7" r="1.6"/><circle cx="122.2" cy="142.5" r="1.6"/><circle cx="115.0" cy="133.6" r="1.6"/><circle cx="125.9" cy="139.7" r="1.6"/><circle cx="113.8" cy="134.9" r="1.6"/><circle cx="118.6" cy="135.7" r="1.6"/><circle cx="121.0" cy="135.6" r="1.6"/><circle cx="123.8" cy="136.0" r="1.6"/><circle cx="121.6" cy="141.1" r="1.6"/><circle cx="121.5" cy="136.6" r="1.6"/><circle cx="116.1" cy="135.3" r="1.6"/><circle cx="113.6" cy="134.7" r="1.6"/><circle cx="119.9" cy="137.6" r="1.6"/><circle cx="116.3" cy="131.9" r="1.6"/><circle cx="113.5" cy="133.7" r="1.6"/><circle cx="113.7" cy="135.8" r="1.6"/><circle cx="117.3" cy="133.4" r="1.6"/><circle cx="110.9" cy="135.5" r="1.6"/><circle cx="113.3" cy="133.2" r="1.6"/><circle cx="112.0" cy="145.2" r="1.6"/><circle cx="120.5" cy="142.1" r="1.6"/><circle cx="121.6" cy="138.1" r="1.6"/><circle cx="129.1" cy="135.8" r="1.6"/><circle cx="112.6" cy="146.1" r="1.6"/><circle cx="116.4" cy="137.5" r="1.6"/><circle cx="123.9" cy="135.6" r="1.6"/><circle cx="118.6" cy="137.4" r="1.6"/><circle cx="118.1" cy="137.4" r="1.6"/><circle cx="127.7" cy="142.5" r="1.6"/><circle cx="118.0" cy="135.9" r="1.6"/><circle cx="114.2" cy="145.7" r="1.6"/><circle cx="113.5" cy="131.9" r="1.6"/><circle cx="121.2" cy="139.2" r="1.6"/><circle cx="121.1" cy="131.4" r="1.6"/><circle cx="113.2" cy="144.4" r="1.6"/><circle cx="115.0" cy="134.5" r="1.6"/><circle cx="122.2" cy="135.7" r="1.6"/><circle cx="122.4" cy="140.3" r="1.6"/><circle cx="116.6" cy="141.8" r="1.6"/><circle cx="122.6" cy="130.9" r="1.6"/><circle cx="122.3" cy="134.4" r="1.6"/><circle cx="111.3" cy="129.6" r="1.6"/><circle cx="118.2" cy="136.6" r="1.6"/><circle cx="121.6" cy="135.5" r="1.6"/><circle cx="116.9" cy="134.4" r="1.6"/><circle cx="109.6" cy="132.9" r="1.6"/><circle cx="118.3" cy="134.2" r="1.6"/><circle cx="123.2" cy="132.6" r="1.6"/><circle cx="127.1" cy="138.4" r="1.6"/><circle cx="109.3" cy="143.0" r="1.6"/><circle cx="131.9" cy="127.1" r="1.6"/><circle cx="114.3" cy="135.5" r="1.6"/><circle cx="124.1" cy="134.1" r="1.6"/><circle cx="125.4" cy="138.3" r="1.6"/><circle cx="124.3" cy="131.6" r="1.6"/><circle cx="120.3" cy="135.3" r="1.6"/><circle cx="114.2" cy="131.2" r="1.6"/><circle cx="122.6" cy="139.2" r="1.6"/><circle cx="116.3" cy="136.5" r="1.6"/><circle cx="107.8" cy="135.3" r="1.6"/><circle cx="132.1" cy="137.7" r="1.6"/><circle cx="123.0" cy="134.9" r="1.6"/><circle cx="128.2" cy="128.9" r="1.6"/><circle cx="115.4" cy="138.7" r="1.6"/><circle cx="126.5" cy="137.3" r="1.6"/><circle cx="127.1" cy="135.3" r="1.6"/><circle cx="126.9" cy="140.5" r="1.6"/><circle cx="119.5" cy="141.6" r="1.6"/><circle cx="114.0" cy="131.0" r="1.6"/><circle cx="118.8" cy="132.4" r="1.6"/><circle cx="109.3" cy="143.1" r="1.6"/><circle cx="111.6" cy="142.5" r="1.6"/><circle cx="120.1" cy="132.6" r="1.6"/><circle cx="115.0" cy="130.6" r="1.6"/><circle cx="118.9" cy="133.1" r="1.6"/><circle cx="119.1" cy="133.7" r="1.6"/><circle cx="128.7" cy="128.7" r="1.6"/><circle cx="125.7" cy="136.1" r="1.6"/><circle cx="119.4" cy="130.1" r="1.6"/><circle cx="125.3" cy="130.4" r="1.6"/><circle cx="116.0" cy="140.2" r="1.6"/><circle cx="118.1" cy="132.9" r="1.6"/><circle cx="123.9" cy="135.7" r="1.6"/><circle cx="113.8" cy="138.9" r="1.6"/><circle cx="118.3" cy="139.7" r="1.6"/><circle cx="113.4" cy="134.4" r="1.6"/><circle cx="120.2" cy="136.2" r="1.6"/><circle cx="127.3" cy="132.2" r="1.6"/><circle cx="116.1" cy="144.0" r="1.6"/><circle cx="120.7" cy="139.0" r="1.6"/><circle cx="115.4" cy="130.9" r="1.6"/><circle cx="114.2" cy="136.0" r="1.6"/><circle cx="113.8" cy="139.3" r="1.6"/><circle cx="126.5" cy="138.2" r="1.6"/><circle cx="130.7" cy="144.4" r="1.6"/><circle cx="121.9" cy="142.3" r="1.6"/><circle cx="116.3" cy="133.5" r="1.6"/><circle cx="123.0" cy="135.6" r="1.6"/><circle cx="118.1" cy="130.1" r="1.6"/><circle cx="123.4" cy="137.1" r="1.6"/><circle cx="121.0" cy="136.7" r="1.6"/><circle cx="121.0" cy="148.4" r="1.6"/><circle cx="122.5" cy="136.4" r="1.6"/><circle cx="116.9" cy="126.4" r="1.6"/><circle cx="117.7" cy="132.9" r="1.6"/><circle cx="111.6" cy="136.5" r="1.6"/><circle cx="117.6" cy="130.2" r="1.6"/><circle cx="113.0" cy="132.0" r="1.6"/><circle cx="119.0" cy="134.3" r="1.6"/><circle cx="115.1" cy="137.6" r="1.6"/><circle cx="120.1" cy="135.2" r="1.6"/><circle cx="121.8" cy="131.9" r="1.6"/><circle cx="113.0" cy="139.6" r="1.6"/><circle cx="115.8" cy="133.5" r="1.6"/><circle cx="115.2" cy="133.7" r="1.6"/><circle cx="123.1" cy="129.7" r="1.6"/><circle cx="127.7" cy="132.4" r="1.6"/><circle cx="123.6" cy="139.0" r="1.6"/><circle cx="118.0" cy="128.6" r="1.6"/><circle cx="126.5" cy="135.7" r="1.6"/><circle cx="112.5" cy="139.3" r="1.6"/><circle cx="126.7" cy="134.3" r="1.6"/><circle cx="116.6" cy="137.1" r="1.6"/><circle cx="107.1" cy="130.9" r="1.6"/><circle cx="132.1" cy="142.0" r="1.6"/><circle cx="127.1" cy="141.1" r="1.6"/><circle cx="114.8" cy="137.1" r="1.6"/><circle cx="120.4" cy="127.9" r="1.6"/><circle cx="118.6" cy="131.2" r="1.6"/><circle cx="120.1" cy="140.5" r="1.6"/><circle cx="112.7" cy="143.9" r="1.6"/><circle cx="116.4" cy="137.4" r="1.6"/><circle cx="121.8" cy="141.7" r="1.6"/><circle cx="120.7" cy="133.2" r="1.6"/><circle cx="125.3" cy="135.1" r="1.6"/><circle cx="120.0" cy="136.0" r="1.6"/><circle cx="130.7" cy="137.9" r="1.6"/><circle cx="116.3" cy="129.0" r="1.6"/><circle cx="120.9" cy="140.3" r="1.6"/><circle cx="110.6" cy="142.1" r="1.6"/><circle cx="113.8" cy="130.7" r="1.6"/><circle cx="125.9" cy="129.8" r="1.6"/><circle cx="115.2" cy="137.6" r="1.6"/><circle cx="122.1" cy="133.0" r="1.6"/><circle cx="119.3" cy="125.1" r="1.6"/><circle cx="114.7" cy="139.7" r="1.6"/><circle cx="118.0" cy="136.7" r="1.6"/><circle cx="117.2" cy="133.8" r="1.6"/><circle cx="117.3" cy="145.7" r="1.6"/><circle cx="123.2" cy="136.6" r="1.6"/><circle cx="122.7" cy="132.5" r="1.6"/><circle cx="116.9" cy="136.5" r="1.6"/><circle cx="115.4" cy="131.2" r="1.6"/><circle cx="121.0" cy="132.5" r="1.6"/><circle cx="119.2" cy="137.8" r="1.6"/><circle cx="124.5" cy="133.5" r="1.6"/><circle cx="132.1" cy="133.9" r="1.6"/><circle cx="123.6" cy="143.7" r="1.6"/><circle cx="119.5" cy="140.0" r="1.6"/><circle cx="118.8" cy="139.7" r="1.6"/><circle cx="115.6" cy="138.4" r="1.6"/><circle cx="115.4" cy="138.2" r="1.6"/><circle cx="114.9" cy="142.7" r="1.6"/><circle cx="117.8" cy="135.9" r="1.6"/><circle cx="117.6" cy="144.5" r="1.6"/><circle cx="123.1" cy="131.6" r="1.6"/><circle cx="115.0" cy="114.0" r="1.6"/><circle cx="124.0" cy="114.5" r="1.6"/><circle cx="119.0" cy="118.0" r="1.6"/><circle cx="170.6" cy="86.0" r="1.6"/><circle cx="172.6" cy="86.0" r="1.6"/><circle cx="165.7" cy="96.1" r="1.6"/><circle cx="162.1" cy="108.5" r="1.6"/><circle cx="165.4" cy="106.6" r="1.6"/><circle cx="168.1" cy="108.2" r="1.6"/><circle cx="171.1" cy="103.8" r="1.6"/><circle cx="164.4" cy="103.8" r="1.6"/><circle cx="166.5" cy="103.0" r="1.6"/><circle cx="165.3" cy="106.5" r="1.6"/><circle cx="164.1" cy="99.6" r="1.6"/><circle cx="162.7" cy="102.4" r="1.6"/><circle cx="166.7" cy="102.0" r="1.6"/><circle cx="160.9" cy="105.2" r="1.6"/><circle cx="166.8" cy="97.7" r="1.6"/><circle cx="166.5" cy="94.4" r="1.6"/><circle cx="164.4" cy="95.5" r="1.6"/><circle cx="164.9" cy="116.6" r="1.6"/><circle cx="169.9" cy="115.3" r="1.6"/><circle cx="161.9" cy="117.4" r="1.6"/><circle cx="176.9" cy="119.4" r="1.6"/><circle cx="164.2" cy="118.8" r="1.6"/><circle cx="157.5" cy="114.3" r="1.6"/><circle cx="166.9" cy="118.4" r="1.6"/><circle cx="166.9" cy="116.2" r="1.6"/><circle cx="176.1" cy="120.0" r="1.6"/><circle cx="166.0" cy="126.1" r="1.6"/><circle cx="167.4" cy="121.7" r="1.6"/><circle cx="170.2" cy="118.3" r="1.6"/><circle cx="174.6" cy="113.6" r="1.6"/><circle cx="167.2" cy="114.3" r="1.6"/><circle cx="172.2" cy="113.3" r="1.6"/><circle cx="169.8" cy="122.0" r="1.6"/><circle cx="166.1" cy="116.6" r="1.6"/><circle cx="167.8" cy="119.6" r="1.6"/><circle cx="167.6" cy="117.2" r="1.6"/><circle cx="163.4" cy="119.7" r="1.6"/><circle cx="172.9" cy="124.4" r="1.6"/><circle cx="161.2" cy="116.9" r="1.6"/><circle cx="172.8" cy="118.2" r="1.6"/><circle cx="171.8" cy="116.5" r="1.6"/><circle cx="167.1" cy="122.5" r="1.6"/><circle cx="164.0" cy="115.7" r="1.6"/><circle cx="166.5" cy="115.3" r="1.6"/><circle cx="169.6" cy="114.4" r="1.6"/><circle cx="170.8" cy="114.3" r="1.6"/><circle cx="168.8" cy="121.1" r="1.6"/><circle cx="171.9" cy="128.6" r="1.6"/><circle cx="165.0" cy="115.8" r="1.6"/><circle cx="168.5" cy="122.8" r="1.6"/><circle cx="160.4" cy="120.3" r="1.6"/><circle cx="170.9" cy="115.4" r="1.6"/><circle cx="168.2" cy="118.4" r="1.6"/><circle cx="165.6" cy="118.6" r="1.6"/><circle cx="172.7" cy="116.9" r="1.6"/><circle cx="170.6" cy="126.4" r="1.6"/><circle cx="155.0" cy="112.5" r="1.6"/><circle cx="167.7" cy="120.8" r="1.6"/><circle cx="160.9" cy="120.6" r="1.6"/><circle cx="172.3" cy="117.3" r="1.6"/><circle cx="178.7" cy="119.9" r="1.6"/><circle cx="165.1" cy="122.6" r="1.6"/><circle cx="167.8" cy="119.9" r="1.6"/><circle cx="166.4" cy="120.9" r="1.6"/><circle cx="169.1" cy="121.9" r="1.6"/><circle cx="170.4" cy="112.1" r="1.6"/><circle cx="173.3" cy="124.7" r="1.6"/><circle cx="163.0" cy="127.6" r="1.6"/><circle cx="174.6" cy="122.9" r="1.6"/><circle cx="163.3" cy="123.0" r="1.6"/><circle cx="168.7" cy="114.3" r="1.6"/><circle cx="172.7" cy="119.0" r="1.6"/><circle cx="170.7" cy="116.5" r="1.6"/><circle cx="163.3" cy="117.3" r="1.6"/><circle cx="164.3" cy="122.9" r="1.6"/><circle cx="165.4" cy="116.5" r="1.6"/><circle cx="167.2" cy="118.9" r="1.6"/><circle cx="172.6" cy="112.5" r="1.6"/><circle cx="161.7" cy="118.8" r="1.6"/><circle cx="169.6" cy="119.7" r="1.6"/><circle cx="170.2" cy="116.9" r="1.6"/><circle cx="170.0" cy="116.8" r="1.6"/><circle cx="169.6" cy="126.2" r="1.6"/><circle cx="174.3" cy="115.0" r="1.6"/><circle cx="169.7" cy="115.6" r="1.6"/><circle cx="171.3" cy="116.5" r="1.6"/><circle cx="170.0" cy="123.7" r="1.6"/><circle cx="175.5" cy="127.0" r="1.6"/><circle cx="158.9" cy="120.6" r="1.6"/><circle cx="173.2" cy="116.8" r="1.6"/><circle cx="166.3" cy="117.9" r="1.6"/><circle cx="166.2" cy="123.2" r="1.6"/><circle cx="163.1" cy="116.1" r="1.6"/><circle cx="159.1" cy="124.6" r="1.6"/><circle cx="165.8" cy="124.5" r="1.6"/><circle cx="164.4" cy="119.7" r="1.6"/><circle cx="169.7" cy="121.7" r="1.6"/><circle cx="160.9" cy="122.1" r="1.6"/><circle cx="173.9" cy="125.0" r="1.6"/><circle cx="168.7" cy="115.6" r="1.6"/><circle cx="166.4" cy="123.7" r="1.6"/><circle cx="164.3" cy="118.0" r="1.6"/><circle cx="167.3" cy="135.9" r="1.6"/><circle cx="169.8" cy="136.4" r="1.6"/><circle cx="168.9" cy="136.8" r="1.6"/><circle cx="166.7" cy="135.2" r="1.6"/><circle cx="165.0" cy="135.3" r="1.6"/><circle cx="166.8" cy="136.6" r="1.6"/><circle cx="173.5" cy="136.1" r="1.6"/><circle cx="175.0" cy="135.2" r="1.6"/><circle cx="171.3" cy="137.0" r="1.6"/><circle cx="172.8" cy="136.2" r="1.6"/><circle cx="161.5" cy="146.5" r="1.6"/><circle cx="160.0" cy="146.3" r="1.6"/><circle cx="159.5" cy="145.3" r="1.6"/><circle cx="160.2" cy="142.3" r="1.6"/><circle cx="159.7" cy="140.0" r="1.6"/><circle cx="159.0" cy="143.5" r="1.6"/><circle cx="159.4" cy="138.5" r="1.6"/><circle cx="161.1" cy="143.2" r="1.6"/><circle cx="173.5" cy="145.5" r="1.6"/><circle cx="171.5" cy="150.1" r="1.6"/><circle cx="167.2" cy="147.5" r="1.6"/><circle cx="175.3" cy="149.6" r="1.6"/><circle cx="174.2" cy="146.9" r="1.6"/><circle cx="169.1" cy="147.7" r="1.6"/><circle cx="173.6" cy="147.1" r="1.6"/><circle cx="168.6" cy="148.5" r="1.6"/><circle cx="174.6" cy="149.3" r="1.6"/><circle cx="170.3" cy="148.0" r="1.6"/><circle cx="168.4" cy="146.0" r="1.6"/><circle cx="169.8" cy="145.8" r="1.6"/><circle cx="168.5" cy="151.2" r="1.6"/><circle cx="171.6" cy="146.9" r="1.6"/><circle cx="171.5" cy="146.9" r="1.6"/><circle cx="171.1" cy="150.7" r="1.6"/><circle cx="169.2" cy="149.9" r="1.6"/><circle cx="159.3" cy="148.7" r="1.6"/><circle cx="171.3" cy="146.6" r="1.6"/><circle cx="164.9" cy="152.7" r="1.6"/><circle cx="171.8" cy="148.4" r="1.6"/><circle cx="174.6" cy="148.7" r="1.6"/><circle cx="171.9" cy="147.1" r="1.6"/><circle cx="169.7" cy="144.4" r="1.6"/><circle cx="170.4" cy="144.6" r="1.6"/><circle cx="170.6" cy="148.4" r="1.6"/><circle cx="169.2" cy="148.4" r="1.6"/><circle cx="169.1" cy="147.0" r="1.6"/><circle cx="161.6" cy="157.7" r="1.6"/><circle cx="160.3" cy="157.2" r="1.6"/><circle cx="165.8" cy="157.4" r="1.6"/><circle cx="160.2" cy="154.5" r="1.6"/><circle cx="172.0" cy="153.6" r="1.6"/><circle cx="173.2" cy="157.2" r="1.6"/><circle cx="180.0" cy="156.7" r="1.6"/><circle cx="171.9" cy="157.1" r="1.6"/><circle cx="164.5" cy="154.3" r="1.6"/><circle cx="210.5" cy="77.0" r="1.6"/><circle cx="212.0" cy="78.5" r="1.6"/><circle cx="217.0" cy="80.5" r="1.6"/><circle cx="218.5" cy="78.0" r="1.6"/><circle cx="220.5" cy="76.5" r="1.6"/><circle cx="218.0" cy="82.0" r="1.6"/><circle cx="216.5" cy="81.0" r="1.6"/><circle cx="218.6" cy="121.5" r="1.6"/><circle cx="222.6" cy="123.8" r="1.6"/><circle cx="210.0" cy="126.2" r="1.6"/><circle cx="213.0" cy="125.8" r="1.6"/><circle cx="208.4" cy="123.1" r="1.6"/><circle cx="223.4" cy="125.5" r="1.6"/><circle cx="221.8" cy="121.9" r="1.6"/><circle cx="219.1" cy="127.3" r="1.6"/><circle cx="209.3" cy="121.2" r="1.6"/><circle cx="216.2" cy="111.3" r="1.6"/><circle cx="214.1" cy="127.7" r="1.6"/><circle cx="215.7" cy="121.8" r="1.6"/><circle cx="214.4" cy="115.7" r="1.6"/><circle cx="217.9" cy="120.3" r="1.6"/><circle cx="213.3" cy="117.1" r="1.6"/><circle cx="219.6" cy="131.4" r="1.6"/><circle cx="216.5" cy="123.7" r="1.6"/><circle cx="213.9" cy="113.8" r="1.6"/><circle cx="214.8" cy="123.9" r="1.6"/><circle cx="213.1" cy="119.4" r="1.6"/><circle cx="219.4" cy="130.5" r="1.6"/><circle cx="214.0" cy="116.2" r="1.6"/><circle cx="216.8" cy="110.5" r="1.6"/><circle cx="213.4" cy="121.6" r="1.6"/><circle cx="207.9" cy="119.6" r="1.6"/><circle cx="219.9" cy="119.3" r="1.6"/><circle cx="210.0" cy="111.0" r="1.6"/><circle cx="218.7" cy="123.3" r="1.6"/><circle cx="217.4" cy="129.3" r="1.6"/><circle cx="207.0" cy="112.1" r="1.6"/><circle cx="210.6" cy="126.9" r="1.6"/><circle cx="212.7" cy="118.6" r="1.6"/><circle cx="211.2" cy="132.6" r="1.6"/><circle cx="209.4" cy="123.4" r="1.6"/><circle cx="219.0" cy="120.4" r="1.6"/><circle cx="214.1" cy="126.6" r="1.6"/><circle cx="217.2" cy="123.8" r="1.6"/><circle cx="213.2" cy="118.5" r="1.6"/><circle cx="216.8" cy="124.7" r="1.6"/><circle cx="211.6" cy="118.8" r="1.6"/><circle cx="215.2" cy="112.7" r="1.6"/><circle cx="218.2" cy="131.1" r="1.6"/><circle cx="215.5" cy="119.6" r="1.6"/><circle cx="213.0" cy="118.4" r="1.6"/><circle cx="209.9" cy="122.9" r="1.6"/><circle cx="216.2" cy="113.8" r="1.6"/><circle cx="217.0" cy="114.8" r="1.6"/><circle cx="214.0" cy="118.9" r="1.6"/><circle cx="211.5" cy="118.8" r="1.6"/><circle cx="218.0" cy="121.6" r="1.6"/><circle cx="227.7" cy="126.7" r="1.6"/><circle cx="213.8" cy="119.0" r="1.6"/><circle cx="217.0" cy="123.7" r="1.6"/><circle cx="217.2" cy="124.2" r="1.6"/><circle cx="202.8" cy="116.1" r="1.6"/><circle cx="215.9" cy="122.4" r="1.6"/><circle cx="211.8" cy="116.8" r="1.6"/><circle cx="222.2" cy="126.4" r="1.6"/><circle cx="214.1" cy="123.5" r="1.6"/><circle cx="211.4" cy="121.4" r="1.6"/><circle cx="214.2" cy="114.9" r="1.6"/><circle cx="216.2" cy="121.9" r="1.6"/><circle cx="212.5" cy="117.6" r="1.6"/><circle cx="215.1" cy="124.7" r="1.6"/><circle cx="208.5" cy="120.7" r="1.6"/><circle cx="214.2" cy="117.4" r="1.6"/><circle cx="219.2" cy="125.7" r="1.6"/><circle cx="225.2" cy="124.8" r="1.6"/><circle cx="218.9" cy="118.5" r="1.6"/><circle cx="216.7" cy="126.9" r="1.6"/><circle cx="221.2" cy="119.9" r="1.6"/><circle cx="220.4" cy="119.8" r="1.6"/><circle cx="223.6" cy="121.9" r="1.6"/><circle cx="220.7" cy="117.7" r="1.6"/><circle cx="214.7" cy="119.2" r="1.6"/><circle cx="216.6" cy="120.5" r="1.6"/><circle cx="216.2" cy="128.6" r="1.6"/><circle cx="216.8" cy="128.5" r="1.6"/><circle cx="216.3" cy="120.1" r="1.6"/><circle cx="211.4" cy="129.0" r="1.6"/><circle cx="204.8" cy="121.1" r="1.6"/><circle cx="212.0" cy="123.1" r="1.6"/><circle cx="205.2" cy="125.5" r="1.6"/><circle cx="215.7" cy="122.7" r="1.6"/><circle cx="215.3" cy="132.9" r="1.6"/><circle cx="206.9" cy="122.5" r="1.6"/><circle cx="218.8" cy="115.6" r="1.6"/><circle cx="219.7" cy="127.6" r="1.6"/><circle cx="215.8" cy="119.3" r="1.6"/><circle cx="223.7" cy="119.8" r="1.6"/><circle cx="224.7" cy="106.9" r="1.6"/><circle cx="209.3" cy="126.1" r="1.6"/><circle cx="220.5" cy="125.2" r="1.6"/><circle cx="217.5" cy="125.1" r="1.6"/><circle cx="217.4" cy="126.0" r="1.6"/><circle cx="220.0" cy="129.4" r="1.6"/><circle cx="211.7" cy="121.1" r="1.6"/><circle cx="212.4" cy="125.8" r="1.6"/><circle cx="211.2" cy="117.7" r="1.6"/><circle cx="211.5" cy="119.6" r="1.6"/><circle cx="214.8" cy="126.4" r="1.6"/><circle cx="208.1" cy="123.2" r="1.6"/><circle cx="210.1" cy="114.9" r="1.6"/><circle cx="218.2" cy="123.0" r="1.6"/><circle cx="215.0" cy="120.4" r="1.6"/><circle cx="217.2" cy="117.4" r="1.6"/><circle cx="205.9" cy="123.4" r="1.6"/><circle cx="211.4" cy="119.4" r="1.6"/><circle cx="212.5" cy="113.8" r="1.6"/><circle cx="215.5" cy="116.0" r="1.6"/><circle cx="212.4" cy="129.8" r="1.6"/><circle cx="220.0" cy="114.0" r="1.6"/><circle cx="215.0" cy="122.4" r="1.6"/><circle cx="215.4" cy="124.2" r="1.6"/><circle cx="215.4" cy="124.4" r="1.6"/><circle cx="218.9" cy="115.4" r="1.6"/><circle cx="213.0" cy="119.8" r="1.6"/><circle cx="220.9" cy="122.0" r="1.6"/><circle cx="217.6" cy="125.1" r="1.6"/><circle cx="216.1" cy="118.2" r="1.6"/><circle cx="210.7" cy="143.1" r="1.6"/><circle cx="219.3" cy="144.5" r="1.6"/><circle cx="219.7" cy="144.7" r="1.6"/><circle cx="216.8" cy="146.0" r="1.6"/><circle cx="212.9" cy="144.8" r="1.6"/><circle cx="216.9" cy="143.6" r="1.6"/><circle cx="215.8" cy="144.9" r="1.6"/><circle cx="218.7" cy="143.6" r="1.6"/><circle cx="210.3" cy="143.1" r="1.6"/><circle cx="215.8" cy="146.4" r="1.6"/><circle cx="214.7" cy="144.6" r="1.6"/><circle cx="210.9" cy="144.9" r="1.6"/><circle cx="216.2" cy="144.8" r="1.6"/><circle cx="215.5" cy="145.7" r="1.6"/><circle cx="213.7" cy="144.5" r="1.6"/><circle cx="216.9" cy="145.3" r="1.6"/><circle cx="209.6" cy="143.5" r="1.6"/><circle cx="215.1" cy="143.2" r="1.6"/><circle cx="217.0" cy="145.4" r="1.6"/><circle cx="216.5" cy="145.5" r="1.6"/><circle cx="219.6" cy="144.7" r="1.6"/><circle cx="210.5" cy="144.5" r="1.6"/><circle cx="216.1" cy="152.1" r="1.6"/><circle cx="212.2" cy="150.2" r="1.6"/><circle cx="222.2" cy="151.7" r="1.6"/><circle cx="218.3" cy="153.3" r="1.6"/><circle cx="217.6" cy="150.5" r="1.6"/><circle cx="217.0" cy="149.0" r="1.6"/><circle cx="220.0" cy="149.2" r="1.6"/><circle cx="217.6" cy="155.6" r="1.6"/><circle cx="218.7" cy="154.2" r="1.6"/><circle cx="210.1" cy="157.6" r="1.6"/><circle cx="217.6" cy="157.7" r="1.6"/><circle cx="225.2" cy="152.8" r="1.6"/><circle cx="213.0" cy="156.3" r="1.6"/><circle cx="214.7" cy="149.0" r="1.6"/><circle cx="219.3" cy="162.0" r="1.6"/><circle cx="219.6" cy="158.2" r="1.6"/><circle cx="218.1" cy="153.2" r="1.6"/><circle cx="208.0" cy="149.9" r="1.6"/><circle cx="217.6" cy="155.3" r="1.6"/><circle cx="210.0" cy="147.5" r="1.6"/><circle cx="211.6" cy="151.3" r="1.6"/><circle cx="217.8" cy="156.6" r="1.6"/><circle cx="214.0" cy="154.3" r="1.6"/><circle cx="219.0" cy="152.3" r="1.6"/><circle cx="227.8" cy="157.3" r="1.6"/><circle cx="218.8" cy="150.4" r="1.6"/><circle cx="218.6" cy="155.0" r="1.6"/><circle cx="211.3" cy="152.3" r="1.6"/><circle cx="212.4" cy="151.0" r="1.6"/><circle cx="210.5" cy="155.6" r="1.6"/><circle cx="211.8" cy="173.2" r="1.6"/><circle cx="222.0" cy="176.5" r="1.6"/><circle cx="213.3" cy="177.3" r="1.6"/><circle cx="222.3" cy="178.1" r="1.6"/><circle cx="211.5" cy="169.7" r="1.6"/><circle cx="217.4" cy="181.7" r="1.6"/><circle cx="211.1" cy="178.0" r="1.6"/><circle cx="210.6" cy="174.5" r="1.6"/><circle cx="215.9" cy="172.4" r="1.6"/><circle cx="217.7" cy="170.1" r="1.6"/><circle cx="210.9" cy="171.2" r="1.6"/><circle cx="219.5" cy="177.9" r="1.6"/><circle cx="265.0" cy="33.0" r="1.6"/><circle cx="263.0" cy="37.5" r="1.6"/><circle cx="262.0" cy="57.1" r="1.6"/><circle cx="259.2" cy="55.5" r="1.6"/><circle cx="261.3" cy="53.1" r="1.6"/><circle cx="268.6" cy="54.1" r="1.6"/><circle cx="262.0" cy="55.8" r="1.6"/><circle cx="261.1" cy="56.5" r="1.6"/><circle cx="267.9" cy="57.9" r="1.6"/><circle cx="264.8" cy="58.4" r="1.6"/><circle cx="262.0" cy="49.7" r="1.6"/><circle cx="264.3" cy="112.5" r="1.6"/><circle cx="264.3" cy="115.7" r="1.6"/><circle cx="258.1" cy="124.8" r="1.6"/><circle cx="252.4" cy="127.8" r="1.6"/><circle cx="260.6" cy="122.4" r="1.6"/><circle cx="258.4" cy="124.9" r="1.6"/><circle cx="259.9" cy="119.7" r="1.6"/><circle cx="261.8" cy="119.8" r="1.6"/><circle cx="256.9" cy="118.5" r="1.6"/><circle cx="257.6" cy="125.9" r="1.6"/><circle cx="262.7" cy="123.0" r="1.6"/><circle cx="263.7" cy="120.4" r="1.6"/><circle cx="259.9" cy="120.0" r="1.6"/><circle cx="265.7" cy="124.0" r="1.6"/><circle cx="262.1" cy="123.0" r="1.6"/><circle cx="258.1" cy="117.8" r="1.6"/><circle cx="263.4" cy="129.2" r="1.6"/><circle cx="272.6" cy="122.7" r="1.6"/><circle cx="259.8" cy="121.5" r="1.6"/><circle cx="269.0" cy="128.1" r="1.6"/><circle cx="270.0" cy="126.1" r="1.6"/><circle cx="270.7" cy="121.1" r="1.6"/><circle cx="259.0" cy="123.9" r="1.6"/><circle cx="273.2" cy="116.7" r="1.6"/><circle cx="263.7" cy="118.6" r="1.6"/><circle cx="261.9" cy="111.3" r="1.6"/><circle cx="262.0" cy="127.0" r="1.6"/><circle cx="266.2" cy="113.0" r="1.6"/><circle cx="263.4" cy="124.6" r="1.6"/><circle cx="262.3" cy="117.8" r="1.6"/><circle cx="269.6" cy="117.1" r="1.6"/><circle cx="259.5" cy="120.6" r="1.6"/><circle cx="257.9" cy="122.7" r="1.6"/><circle cx="267.1" cy="124.3" r="1.6"/><circle cx="266.7" cy="129.5" r="1.6"/><circle cx="268.6" cy="123.1" r="1.6"/><circle cx="257.8" cy="125.5" r="1.6"/><circle cx="268.6" cy="118.8" r="1.6"/><circle cx="265.6" cy="124.7" r="1.6"/><circle cx="272.0" cy="122.2" r="1.6"/><circle cx="256.9" cy="119.4" r="1.6"/><circle cx="264.3" cy="121.1" r="1.6"/><circle cx="261.8" cy="121.2" r="1.6"/><circle cx="255.2" cy="122.4" r="1.6"/><circle cx="259.6" cy="123.3" r="1.6"/><circle cx="268.8" cy="119.2" r="1.6"/><circle cx="260.8" cy="118.2" r="1.6"/><circle cx="259.5" cy="124.9" r="1.6"/><circle cx="267.5" cy="113.9" r="1.6"/><circle cx="268.1" cy="118.7" r="1.6"/><circle cx="268.1" cy="128.5" r="1.6"/><circle cx="259.2" cy="109.3" r="1.6"/><circle cx="262.9" cy="118.4" r="1.6"/><circle cx="268.3" cy="124.6" r="1.6"/><circle cx="259.9" cy="114.1" r="1.6"/><circle cx="259.4" cy="133.2" r="1.6"/><circle cx="267.3" cy="109.9" r="1.6"/><circle cx="271.0" cy="128.0" r="1.6"/><circle cx="257.4" cy="128.5" r="1.6"/><circle cx="250.7" cy="125.6" r="1.6"/><circle cx="255.9" cy="120.5" r="1.6"/><circle cx="258.1" cy="123.1" r="1.6"/><circle cx="262.5" cy="117.5" r="1.6"/><circle cx="266.2" cy="125.1" r="1.6"/><circle cx="262.4" cy="116.5" r="1.6"/><circle cx="259.7" cy="120.3" r="1.6"/><circle cx="263.9" cy="126.0" r="1.6"/><circle cx="258.4" cy="116.5" r="1.6"/><circle cx="262.9" cy="119.9" r="1.6"/><circle cx="260.0" cy="122.2" r="1.6"/><circle cx="275.7" cy="115.5" r="1.6"/><circle cx="267.2" cy="126.7" r="1.6"/><circle cx="259.0" cy="123.0" r="1.6"/><circle cx="258.2" cy="114.7" r="1.6"/><circle cx="261.0" cy="121.3" r="1.6"/><circle cx="254.9" cy="118.0" r="1.6"/><circle cx="259.5" cy="118.5" r="1.6"/><circle cx="259.5" cy="121.8" r="1.6"/><circle cx="267.6" cy="118.3" r="1.6"/><circle cx="261.0" cy="125.8" r="1.6"/><circle cx="259.2" cy="118.3" r="1.6"/><circle cx="256.5" cy="125.9" r="1.6"/><circle cx="257.3" cy="121.3" r="1.6"/><circle cx="262.8" cy="125.4" r="1.6"/><circle cx="262.1" cy="119.1" r="1.6"/><circle cx="268.8" cy="119.2" r="1.6"/><circle cx="260.0" cy="116.3" r="1.6"/><circle cx="268.5" cy="124.1" r="1.6"/><circle cx="264.4" cy="125.7" r="1.6"/><circle cx="263.1" cy="131.0" r="1.6"/><circle cx="269.6" cy="142.2" r="1.6"/><circle cx="264.4" cy="140.9" r="1.6"/><circle cx="262.1" cy="140.0" r="1.6"/><circle cx="265.1" cy="143.2" r="1.6"/><circle cx="263.0" cy="143.6" r="1.6"/><circle cx="270.5" cy="136.9" r="1.6"/><circle cx="267.9" cy="143.5" r="1.6"/><circle cx="259.0" cy="141.9" r="1.6"/><circle cx="259.7" cy="143.2" r="1.6"/><circle cx="270.0" cy="141.8" r="1.6"/><circle cx="264.7" cy="137.0" r="1.6"/><circle cx="262.0" cy="137.2" r="1.6"/><circle cx="269.1" cy="145.6" r="1.6"/><circle cx="261.2" cy="141.2" r="1.6"/><circle cx="261.8" cy="136.5" r="1.6"/><circle cx="260.9" cy="141.5" r="1.6"/><circle cx="253.4" cy="139.5" r="1.6"/><circle cx="267.5" cy="135.3" r="1.6"/><circle cx="257.1" cy="134.1" r="1.6"/><circle cx="260.3" cy="136.0" r="1.6"/><circle cx="259.4" cy="141.3" r="1.6"/><circle cx="266.8" cy="140.4" r="1.6"/><circle cx="262.8" cy="139.8" r="1.6"/><circle cx="263.2" cy="141.3" r="1.6"/><circle cx="254.8" cy="142.2" r="1.6"/><circle cx="262.7" cy="134.6" r="1.6"/><circle cx="255.8" cy="139.7" r="1.6"/><circle cx="264.7" cy="138.2" r="1.6"/><circle cx="265.0" cy="137.0" r="1.6"/><circle cx="263.1" cy="139.0" r="1.6"/><circle cx="273.4" cy="140.2" r="1.6"/><circle cx="265.8" cy="139.8" r="1.6"/><circle cx="256.6" cy="154.1" r="1.6"/><circle cx="261.0" cy="154.7" r="1.6"/><circle cx="272.2" cy="153.5" r="1.6"/><circle cx="258.4" cy="153.6" r="1.6"/><circle cx="255.6" cy="159.2" r="1.6"/><circle cx="264.4" cy="147.4" r="1.6"/><circle cx="265.8" cy="157.7" r="1.6"/><circle cx="265.2" cy="161.9" r="1.6"/><circle cx="258.1" cy="155.1" r="1.6"/><circle cx="267.7" cy="154.9" r="1.6"/><circle cx="259.6" cy="157.2" r="1.6"/><circle cx="258.1" cy="160.5" r="1.6"/><circle cx="260.4" cy="151.4" r="1.6"/><circle cx="262.7" cy="155.3" r="1.6"/><circle cx="266.4" cy="154.4" r="1.6"/><circle cx="266.0" cy="156.7" r="1.6"/><circle cx="263.1" cy="155.5" r="1.6"/><circle cx="267.4" cy="157.0" r="1.6"/><circle cx="263.5" cy="153.7" r="1.6"/><circle cx="267.2" cy="155.1" r="1.6"/><circle cx="256.8" cy="153.0" r="1.6"/><circle cx="256.1" cy="153.0" r="1.6"/><circle cx="266.7" cy="154.6" r="1.6"/><circle cx="256.9" cy="154.6" r="1.6"/><circle cx="256.7" cy="185.5" r="1.6"/><circle cx="271.8" cy="180.3" r="1.6"/><circle cx="262.4" cy="179.2" r="1.6"/><circle cx="255.5" cy="191.6" r="1.6"/><circle cx="269.2" cy="182.7" r="1.6"/><circle cx="259.0" cy="191.3" r="1.6"/><circle cx="266.0" cy="185.9" r="1.6"/><circle cx="263.1" cy="184.3" r="1.6"/><circle cx="264.5" cy="185.7" r="1.6"/><circle cx="264.1" cy="186.2" r="1.6"/><circle cx="260.0" cy="188.1" r="1.6"/><circle cx="263.4" cy="185.5" r="1.6"/><circle cx="274.3" cy="184.5" r="1.6"/><circle cx="250.9" cy="184.6" r="1.6"/><circle cx="263.5" cy="188.7" r="1.6"/><circle cx="270.0" cy="103.6" r="1.6"/><circle cx="309.5" cy="28.0" r="1.6"/><circle cx="312.0" cy="33.0" r="1.6"/><circle cx="316.0" cy="33.0" r="1.6"/><circle cx="314.3" cy="100.9" r="1.6"/><circle cx="307.0" cy="106.1" r="1.6"/><circle cx="308.5" cy="97.1" r="1.6"/><circle cx="312.3" cy="97.4" r="1.6"/><circle cx="308.5" cy="110.4" r="1.6"/><circle cx="309.5" cy="96.3" r="1.6"/><circle cx="307.2" cy="100.1" r="1.6"/><circle cx="310.0" cy="107.6" r="1.6"/><circle cx="312.7" cy="98.9" r="1.6"/><circle cx="315.0" cy="99.7" r="1.6"/><circle cx="311.0" cy="111.1" r="1.6"/><circle cx="319.3" cy="96.3" r="1.6"/><circle cx="310.7" cy="97.1" r="1.6"/><circle cx="323.5" cy="110.6" r="1.6"/><circle cx="315.0" cy="97.8" r="1.6"/><circle cx="314.4" cy="122.1" r="1.6"/><circle cx="311.5" cy="121.9" r="1.6"/><circle cx="305.3" cy="119.8" r="1.6"/><circle cx="315.7" cy="124.9" r="1.6"/><circle cx="314.5" cy="123.1" r="1.6"/><circle cx="314.0" cy="130.5" r="1.6"/><circle cx="316.0" cy="125.7" r="1.6"/><circle cx="316.5" cy="125.4" r="1.6"/><circle cx="310.9" cy="122.0" r="1.6"/><circle cx="304.2" cy="116.6" r="1.6"/><circle cx="304.1" cy="122.6" r="1.6"/><circle cx="317.7" cy="119.2" r="1.6"/><circle cx="314.6" cy="127.3" r="1.6"/><circle cx="311.5" cy="122.9" r="1.6"/><circle cx="308.8" cy="130.5" r="1.6"/><circle cx="311.2" cy="126.3" r="1.6"/><circle cx="311.1" cy="126.8" r="1.6"/><circle cx="309.3" cy="124.0" r="1.6"/><circle cx="307.5" cy="123.9" r="1.6"/><circle cx="321.8" cy="125.9" r="1.6"/><circle cx="312.1" cy="127.2" r="1.6"/><circle cx="308.0" cy="119.8" r="1.6"/><circle cx="304.5" cy="125.2" r="1.6"/><circle cx="307.4" cy="134.8" r="1.6"/><circle cx="314.6" cy="122.6" r="1.6"/><circle cx="314.8" cy="121.9" r="1.6"/><circle cx="309.9" cy="119.9" r="1.6"/><circle cx="311.3" cy="116.5" r="1.6"/><circle cx="309.5" cy="128.3" r="1.6"/><circle cx="305.5" cy="123.3" r="1.6"/><circle cx="317.5" cy="124.3" r="1.6"/><circle cx="312.9" cy="131.3" r="1.6"/><circle cx="323.4" cy="134.3" r="1.6"/><circle cx="307.2" cy="119.0" r="1.6"/><circle cx="310.3" cy="127.7" r="1.6"/><circle cx="315.4" cy="125.8" r="1.6"/><circle cx="309.8" cy="124.8" r="1.6"/><circle cx="304.1" cy="125.2" r="1.6"/><circle cx="306.3" cy="122.9" r="1.6"/><circle cx="311.5" cy="130.2" r="1.6"/><circle cx="312.7" cy="125.8" r="1.6"/><circle cx="310.5" cy="124.6" r="1.6"/><circle cx="316.0" cy="128.6" r="1.6"/><circle cx="316.0" cy="127.0" r="1.6"/><circle cx="312.6" cy="125.1" r="1.6"/><circle cx="311.1" cy="124.5" r="1.6"/><circle cx="309.7" cy="130.9" r="1.6"/><circle cx="313.8" cy="125.3" r="1.6"/><circle cx="315.6" cy="122.6" r="1.6"/><circle cx="311.3" cy="119.2" r="1.6"/><circle cx="313.2" cy="121.5" r="1.6"/><circle cx="309.4" cy="118.3" r="1.6"/><circle cx="303.9" cy="123.5" r="1.6"/><circle cx="306.0" cy="124.2" r="1.6"/><circle cx="314.8" cy="113.8" r="1.6"/><circle cx="313.2" cy="123.1" r="1.6"/><circle cx="319.0" cy="125.9" r="1.6"/><circle cx="311.3" cy="123.8" r="1.6"/><circle cx="315.3" cy="118.7" r="1.6"/><circle cx="317.6" cy="128.7" r="1.6"/><circle cx="316.0" cy="119.9" r="1.6"/><circle cx="308.0" cy="117.5" r="1.6"/><circle cx="310.1" cy="118.1" r="1.6"/><circle cx="311.6" cy="122.9" r="1.6"/><circle cx="306.1" cy="127.4" r="1.6"/><circle cx="313.4" cy="128.3" r="1.6"/><circle cx="316.1" cy="124.0" r="1.6"/><circle cx="308.6" cy="117.6" r="1.6"/><circle cx="320.9" cy="120.1" r="1.6"/><circle cx="309.5" cy="119.0" r="1.6"/><circle cx="310.1" cy="143.9" r="1.6"/><circle cx="302.1" cy="140.5" r="1.6"/><circle cx="311.6" cy="134.4" r="1.6"/><circle cx="314.2" cy="139.1" r="1.6"/><circle cx="310.3" cy="137.8" r="1.6"/><circle cx="313.3" cy="143.4" r="1.6"/><circle cx="306.3" cy="142.4" r="1.6"/><circle cx="303.7" cy="139.0" r="1.6"/><circle cx="307.8" cy="140.5" r="1.6"/><circle cx="316.8" cy="148.0" r="1.6"/><circle cx="316.2" cy="138.4" r="1.6"/><circle cx="308.7" cy="138.5" r="1.6"/><circle cx="317.0" cy="141.1" r="1.6"/><circle cx="309.4" cy="139.3" r="1.6"/><circle cx="318.6" cy="140.4" r="1.6"/><circle cx="313.4" cy="144.0" r="1.6"/><circle cx="308.7" cy="148.6" r="1.6"/><circle cx="315.0" cy="135.2" r="1.6"/><circle cx="307.1" cy="141.9" r="1.6"/><circle cx="306.3" cy="142.2" r="1.6"/><circle cx="303.7" cy="141.7" r="1.6"/><circle cx="312.3" cy="141.3" r="1.6"/><circle cx="310.7" cy="140.7" r="1.6"/><circle cx="310.6" cy="145.8" r="1.6"/><circle cx="309.0" cy="140.2" r="1.6"/><circle cx="318.2" cy="141.5" r="1.6"/><circle cx="308.9" cy="142.0" r="1.6"/><circle cx="307.4" cy="142.4" r="1.6"/><circle cx="317.2" cy="141.4" r="1.6"/><circle cx="318.1" cy="145.8" r="1.6"/><circle cx="312.7" cy="142.0" r="1.6"/><circle cx="302.3" cy="142.7" r="1.6"/><circle cx="308.0" cy="141.8" r="1.6"/><circle cx="314.1" cy="138.2" r="1.6"/><circle cx="311.1" cy="138.8" r="1.6"/><circle cx="318.8" cy="138.0" r="1.6"/><circle cx="304.2" cy="142.7" r="1.6"/><circle cx="314.4" cy="139.3" r="1.6"/><circle cx="307.9" cy="138.0" r="1.6"/><circle cx="317.6" cy="142.9" r="1.6"/><circle cx="310.6" cy="144.0" r="1.6"/><circle cx="316.2" cy="135.3" r="1.6"/><circle cx="307.8" cy="148.4" r="1.6"/><circle cx="304.0" cy="142.1" r="1.6"/><circle cx="305.4" cy="141.6" r="1.6"/><circle cx="308.0" cy="146.1" r="1.6"/><circle cx="305.9" cy="142.3" r="1.6"/><circle cx="317.0" cy="139.7" r="1.6"/><circle cx="317.7" cy="150.3" r="1.6"/><circle cx="312.4" cy="137.9" r="1.6"/><circle cx="305.8" cy="141.6" r="1.6"/><circle cx="310.4" cy="145.2" r="1.6"/><circle cx="307.6" cy="137.9" r="1.6"/><circle cx="318.3" cy="141.6" r="1.6"/><circle cx="312.6" cy="143.5" r="1.6"/><circle cx="320.6" cy="155.1" r="1.6"/><circle cx="307.4" cy="163.4" r="1.6"/><circle cx="310.8" cy="165.5" r="1.6"/><circle cx="313.6" cy="156.6" r="1.6"/><circle cx="311.3" cy="159.4" r="1.6"/><circle cx="306.2" cy="157.2" r="1.6"/><circle cx="312.6" cy="162.4" r="1.6"/><circle cx="311.4" cy="159.5" r="1.6"/><circle cx="312.8" cy="158.3" r="1.6"/><circle cx="315.5" cy="157.2" r="1.6"/><circle cx="315.1" cy="158.4" r="1.6"/><circle cx="312.6" cy="154.5" r="1.6"/><circle cx="312.2" cy="160.4" r="1.6"/><circle cx="306.6" cy="155.5" r="1.6"/><circle cx="310.5" cy="159.9" r="1.6"/><circle cx="311.9" cy="158.5" r="1.6"/><circle cx="309.4" cy="161.8" r="1.6"/><circle cx="311.4" cy="157.9" r="1.6"/><circle cx="316.1" cy="183.0" r="1.6"/><circle cx="306.4" cy="181.3" r="1.6"/><circle cx="314.0" cy="189.6" r="1.6"/><circle cx="309.9" cy="182.3" r="1.6"/><circle cx="312.0" cy="185.8" r="1.6"/><circle cx="311.4" cy="184.2" r="1.6"/><circle cx="315.7" cy="181.0" r="1.6"/><circle cx="300.9" cy="184.7" r="1.6"/><circle cx="312.6" cy="187.2" r="1.6"/><circle cx="303.5" cy="185.0" r="1.6"/><circle cx="317.0" cy="187.9" r="1.6"/><circle cx="301.1" cy="184.6" r="1.6"/><circle cx="361.9" cy="19.4" r="1.6"/><circle cx="361.1" cy="19.2" r="1.6"/><circle cx="362.5" cy="18.4" r="1.6"/><circle cx="365.6" cy="18.2" r="1.6"/><circle cx="366.2" cy="87.1" r="1.6"/><circle cx="353.3" cy="98.8" r="1.6"/><circle cx="354.3" cy="90.0" r="1.6"/><circle cx="358.4" cy="89.5" r="1.6"/><circle cx="356.7" cy="87.9" r="1.6"/><circle cx="368.6" cy="104.8" r="1.6"/><circle cx="347.0" cy="87.7" r="1.6"/><circle cx="360.6" cy="104.2" r="1.6"/><circle cx="362.4" cy="88.5" r="1.6"/><circle cx="353.2" cy="91.9" r="1.6"/><circle cx="355.6" cy="89.4" r="1.6"/><circle cx="361.0" cy="105.7" r="1.6"/><circle cx="367.0" cy="87.0" r="1.6"/><circle cx="354.2" cy="103.1" r="1.6"/><circle cx="350.9" cy="91.3" r="1.6"/><circle cx="363.7" cy="105.0" r="1.6"/><circle cx="358.9" cy="121.4" r="1.6"/><circle cx="358.2" cy="123.0" r="1.6"/><circle cx="358.3" cy="116.3" r="1.6"/><circle cx="356.2" cy="118.1" r="1.6"/><circle cx="357.1" cy="115.2" r="1.6"/><circle cx="356.3" cy="123.8" r="1.6"/><circle cx="360.7" cy="112.4" r="1.6"/><circle cx="354.4" cy="118.4" r="1.6"/><circle cx="357.2" cy="129.8" r="1.6"/><circle cx="358.0" cy="120.3" r="1.6"/><circle cx="366.0" cy="122.3" r="1.6"/><circle cx="360.9" cy="119.3" r="1.6"/><circle cx="358.2" cy="114.1" r="1.6"/><circle cx="361.8" cy="119.8" r="1.6"/><circle cx="361.1" cy="122.0" r="1.6"/><circle cx="364.8" cy="114.9" r="1.6"/><circle cx="361.6" cy="121.7" r="1.6"/><circle cx="368.7" cy="126.2" r="1.6"/><circle cx="366.2" cy="125.3" r="1.6"/><circle cx="358.6" cy="112.1" r="1.6"/><circle cx="356.6" cy="115.1" r="1.6"/><circle cx="363.7" cy="111.9" r="1.6"/><circle cx="361.7" cy="125.4" r="1.6"/><circle cx="358.3" cy="123.1" r="1.6"/><circle cx="350.7" cy="123.5" r="1.6"/><circle cx="348.8" cy="115.6" r="1.6"/><circle cx="360.8" cy="114.2" r="1.6"/><circle cx="363.1" cy="120.4" r="1.6"/><circle cx="363.3" cy="120.5" r="1.6"/><circle cx="351.8" cy="115.7" r="1.6"/><circle cx="364.5" cy="120.7" r="1.6"/><circle cx="355.9" cy="123.2" r="1.6"/><circle cx="361.0" cy="121.1" r="1.6"/><circle cx="361.1" cy="114.8" r="1.6"/><circle cx="354.4" cy="109.4" r="1.6"/><circle cx="355.6" cy="118.7" r="1.6"/><circle cx="347.4" cy="120.8" r="1.6"/><circle cx="353.8" cy="118.7" r="1.6"/><circle cx="348.9" cy="117.9" r="1.6"/><circle cx="361.2" cy="116.5" r="1.6"/><circle cx="359.2" cy="123.6" r="1.6"/><circle cx="363.9" cy="119.7" r="1.6"/><circle cx="360.8" cy="120.6" r="1.6"/><circle cx="355.3" cy="115.1" r="1.6"/><circle cx="360.7" cy="116.9" r="1.6"/><circle cx="356.7" cy="120.8" r="1.6"/><circle cx="362.2" cy="115.0" r="1.6"/><circle cx="360.6" cy="113.7" r="1.6"/><circle cx="353.4" cy="118.4" r="1.6"/><circle cx="358.9" cy="126.0" r="1.6"/><circle cx="359.1" cy="121.0" r="1.6"/><circle cx="357.1" cy="127.3" r="1.6"/><circle cx="363.8" cy="119.3" r="1.6"/><circle cx="368.3" cy="118.4" r="1.6"/><circle cx="356.8" cy="113.0" r="1.6"/><circle cx="356.9" cy="117.1" r="1.6"/><circle cx="346.5" cy="127.2" r="1.6"/><circle cx="358.1" cy="121.6" r="1.6"/><circle cx="356.4" cy="123.7" r="1.6"/><circle cx="347.0" cy="123.5" r="1.6"/><circle cx="358.8" cy="149.9" r="1.6"/><circle cx="357.7" cy="132.7" r="1.6"/><circle cx="359.5" cy="134.3" r="1.6"/><circle cx="362.5" cy="149.6" r="1.6"/><circle cx="361.4" cy="140.6" r="1.6"/><circle cx="361.5" cy="140.2" r="1.6"/><circle cx="359.7" cy="144.3" r="1.6"/><circle cx="354.6" cy="133.2" r="1.6"/><circle cx="357.4" cy="147.4" r="1.6"/><circle cx="353.7" cy="142.1" r="1.6"/><circle cx="364.4" cy="145.4" r="1.6"/><circle cx="347.3" cy="137.3" r="1.6"/><circle cx="357.6" cy="145.6" r="1.6"/><circle cx="371.3" cy="137.1" r="1.6"/><circle cx="357.0" cy="148.7" r="1.6"/><circle cx="352.6" cy="149.9" r="1.6"/><circle cx="358.7" cy="148.4" r="1.6"/><circle cx="365.9" cy="145.6" r="1.6"/><circle cx="358.0" cy="146.4" r="1.6"/><circle cx="362.2" cy="123.1" r="1.6"/><circle cx="359.4" cy="147.8" r="1.6"/><circle cx="356.8" cy="140.1" r="1.6"/><circle cx="371.3" cy="142.7" r="1.6"/><circle cx="359.2" cy="140.0" r="1.6"/><circle cx="355.9" cy="132.3" r="1.6"/><circle cx="356.1" cy="138.2" r="1.6"/><circle cx="360.9" cy="146.6" r="1.6"/><circle cx="361.1" cy="151.9" r="1.6"/><circle cx="363.1" cy="137.6" r="1.6"/><circle cx="359.6" cy="135.7" r="1.6"/><circle cx="351.0" cy="152.2" r="1.6"/><circle cx="361.8" cy="135.8" r="1.6"/><circle cx="357.1" cy="156.5" r="1.6"/><circle cx="357.3" cy="142.4" r="1.6"/><circle cx="350.7" cy="135.8" r="1.6"/><circle cx="355.7" cy="148.9" r="1.6"/><circle cx="354.8" cy="153.9" r="1.6"/><circle cx="358.6" cy="132.0" r="1.6"/><circle cx="350.8" cy="152.9" r="1.6"/><circle cx="359.1" cy="140.0" r="1.6"/><circle cx="359.5" cy="152.4" r="1.6"/><circle cx="352.7" cy="139.3" r="1.6"/><circle cx="355.4" cy="131.0" r="1.6"/><circle cx="354.1" cy="145.5" r="1.6"/><circle cx="363.8" cy="148.5" r="1.6"/><circle cx="346.3" cy="156.7" r="1.6"/><circle cx="357.0" cy="154.1" r="1.6"/><circle cx="349.7" cy="146.9" r="1.6"/><circle cx="356.5" cy="140.3" r="1.6"/><circle cx="363.5" cy="138.4" r="1.6"/><circle cx="355.4" cy="139.9" r="1.6"/><circle cx="359.6" cy="136.2" r="1.6"/><circle cx="354.2" cy="140.1" r="1.6"/><circle cx="369.5" cy="124.2" r="1.6"/><circle cx="363.9" cy="143.3" r="1.6"/><circle cx="358.7" cy="161.8" r="1.6"/><circle cx="369.1" cy="159.3" r="1.6"/><circle cx="361.9" cy="165.9" r="1.6"/><circle cx="356.9" cy="164.2" r="1.6"/><circle cx="361.1" cy="160.6" r="1.6"/><circle cx="353.9" cy="162.9" r="1.6"/><circle cx="363.6" cy="191.2" r="1.6"/><circle cx="361.3" cy="188.7" r="1.6"/><circle cx="360.8" cy="190.6" r="1.6"/><circle cx="354.6" cy="193.2" r="1.6"/><circle cx="355.7" cy="190.1" r="1.6"/><circle cx="359.3" cy="190.3" r="1.6"/><circle cx="363.4" cy="185.2" r="1.6"/><circle cx="354.7" cy="185.9" r="1.6"/><circle cx="353.2" cy="189.9" r="1.6"/><circle cx="364.6" cy="192.6" r="1.6"/><circle cx="354.2" cy="192.2" r="1.6"/>
</g>
<g fill="#a020f0" fill-opacity="0.2" filter="url(#sb)">
<circle cx="418.3" cy="56.5" r="1.6"/><circle cx="408.2" cy="63.9" r="1.6"/><circle cx="407.7" cy="64.2" r="1.6"/><circle cx="411.7" cy="59.9" r="1.6"/><circle cx="406.8" cy="64.6" r="1.6"/><circle cx="406.4" cy="60.8" r="1.6"/><circle cx="401.4" cy="60.2" r="1.6"/><circle cx="411.6" cy="63.0" r="1.6"/><circle cx="401.3" cy="61.1" r="1.6"/><circle cx="409.2" cy="69.4" r="1.6"/><circle cx="399.6" cy="58.6" r="1.6"/><circle cx="412.2" cy="65.1" r="1.6"/><circle cx="401.5" cy="65.8" r="1.6"/><circle cx="410.9" cy="57.5" r="1.6"/><circle cx="398.7" cy="58.1" r="1.6"/><circle cx="404.5" cy="64.6" r="1.6"/><circle cx="412.6" cy="61.7" r="1.6"/><circle cx="402.7" cy="64.1" r="1.6"/><circle cx="407.0" cy="66.2" r="1.6"/><circle cx="404.3" cy="62.0" r="1.6"/><circle cx="408.0" cy="71.7" r="1.6"/><circle cx="413.8" cy="76.6" r="1.6"/><circle cx="409.6" cy="78.8" r="1.6"/><circle cx="406.7" cy="85.9" r="1.6"/><circle cx="405.0" cy="89.8" r="1.6"/><circle cx="397.8" cy="94.3" r="1.6"/><circle cx="404.0" cy="105.0" r="1.6"/><circle cx="405.4" cy="119.4" r="1.6"/><circle cx="408.0" cy="123.0" r="1.6"/><circle cx="389.8" cy="63.0" r="1.6"/><circle cx="417.0" cy="64.0" r="1.6"/><circle cx="401.4" cy="127.5" r="1.6"/><circle cx="394.2" cy="129.5" r="1.6"/><circle cx="407.7" cy="129.1" r="1.6"/><circle cx="402.0" cy="129.5" r="1.6"/><circle cx="408.2" cy="127.7" r="1.6"/><circle cx="407.8" cy="131.6" r="1.6"/><circle cx="399.8" cy="131.1" r="1.6"/><circle cx="415.3" cy="131.4" r="1.6"/><circle cx="412.1" cy="129.2" r="1.6"/><circle cx="410.9" cy="133.7" r="1.6"/><circle cx="411.7" cy="149.3" r="1.6"/><circle cx="404.8" cy="153.4" r="1.6"/><circle cx="396.5" cy="157.7" r="1.6"/><circle cx="407.6" cy="151.8" r="1.6"/><circle cx="409.6" cy="153.2" r="1.6"/><circle cx="406.2" cy="159.8" r="1.6"/><circle cx="399.8" cy="162.5" r="1.6"/><circle cx="402.3" cy="158.6" r="1.6"/><circle cx="399.8" cy="161.6" r="1.6"/><circle cx="407.9" cy="151.6" r="1.6"/><circle cx="411.2" cy="152.2" r="1.6"/><circle cx="412.3" cy="155.9" r="1.6"/><circle cx="402.7" cy="152.2" r="1.6"/><circle cx="408.0" cy="151.0" r="1.6"/><circle cx="409.7" cy="163.9" r="1.6"/><circle cx="403.9" cy="152.8" r="1.6"/><circle cx="405.9" cy="148.2" r="1.6"/><circle cx="418.4" cy="156.9" r="1.6"/><circle cx="407.8" cy="165.0" r="1.6"/><circle cx="411.5" cy="154.5" r="1.6"/><circle cx="404.3" cy="161.4" r="1.6"/><circle cx="406.9" cy="151.4" r="1.6"/><circle cx="397.3" cy="151.1" r="1.6"/><circle cx="406.5" cy="149.9" r="1.6"/><circle cx="413.2" cy="153.1" r="1.6"/><circle cx="418.2" cy="165.0" r="1.6"/><circle cx="413.3" cy="147.1" r="1.6"/><circle cx="410.5" cy="163.8" r="1.6"/><circle cx="407.0" cy="147.9" r="1.6"/><circle cx="403.4" cy="152.6" r="1.6"/><circle cx="405.8" cy="159.0" r="1.6"/><circle cx="410.1" cy="157.8" r="1.6"/><circle cx="402.4" cy="155.7" r="1.6"/><circle cx="411.8" cy="144.1" r="1.6"/><circle cx="401.3" cy="156.2" r="1.6"/><circle cx="396.9" cy="147.9" r="1.6"/><circle cx="401.1" cy="169.4" r="1.6"/><circle cx="397.5" cy="152.7" r="1.6"/><circle cx="399.1" cy="155.1" r="1.6"/><circle cx="412.9" cy="147.1" r="1.6"/><circle cx="405.6" cy="151.1" r="1.6"/><circle cx="407.9" cy="146.3" r="1.6"/><circle cx="413.0" cy="159.9" r="1.6"/><circle cx="413.6" cy="152.4" r="1.6"/><circle cx="403.9" cy="157.4" r="1.6"/><circle cx="414.0" cy="149.9" r="1.6"/><circle cx="408.8" cy="151.0" r="1.6"/><circle cx="406.7" cy="161.7" r="1.6"/><circle cx="409.1" cy="148.2" r="1.6"/><circle cx="398.8" cy="143.2" r="1.6"/><circle cx="408.0" cy="207.7" r="1.6"/><circle cx="403.5" cy="214.7" r="1.6"/><circle cx="400.3" cy="206.7" r="1.6"/><circle cx="403.9" cy="213.1" r="1.6"/><circle cx="405.7" cy="221.2" r="1.6"/><circle cx="411.3" cy="209.4" r="1.6"/><circle cx="399.8" cy="214.1" r="1.6"/><circle cx="411.4" cy="212.2" r="1.6"/><circle cx="415.8" cy="204.5" r="1.6"/><circle cx="409.4" cy="203.4" r="1.6"/><circle cx="409.1" cy="220.7" r="1.6"/><circle cx="406.6" cy="210.1" r="1.6"/><circle cx="401.4" cy="217.4" r="1.6"/><circle cx="409.1" cy="211.7" r="1.6"/><circle cx="408.4" cy="220.6" r="1.6"/><circle cx="410.0" cy="207.1" r="1.6"/><circle cx="404.2" cy="271.8" r="1.6"/><circle cx="404.2" cy="283.9" r="1.6"/><circle cx="408.9" cy="285.5" r="1.6"/><circle cx="402.0" cy="288.3" r="1.6"/><circle cx="401.0" cy="290.2" r="1.6"/><circle cx="402.6" cy="294.3" r="1.6"/><circle cx="399.3" cy="297.9" r="1.6"/><circle cx="410.5" cy="305.3" r="1.6"/><circle cx="400.4" cy="316.3" r="1.6"/><circle cx="405.3" cy="316.3" r="1.6"/><circle cx="398.7" cy="323.7" r="1.6"/><circle cx="408.0" cy="323.2" r="1.6"/><circle cx="413.3" cy="322.4" r="1.6"/><circle cx="410.3" cy="334.2" r="1.6"/><circle cx="448.0" cy="61.5" r="1.6"/><circle cx="456.3" cy="70.4" r="1.6"/><circle cx="462.5" cy="67.6" r="1.6"/><circle cx="457.6" cy="70.4" r="1.6"/><circle cx="455.6" cy="60.0" r="1.6"/><circle cx="465.3" cy="61.2" r="1.6"/><circle cx="449.8" cy="59.5" r="1.6"/><circle cx="458.6" cy="63.9" r="1.6"/><circle cx="452.0" cy="70.6" r="1.6"/><circle cx="454.7" cy="69.0" r="1.6"/><circle cx="454.9" cy="66.9" r="1.6"/><circle cx="461.3" cy="67.5" r="1.6"/><circle cx="450.3" cy="69.7" r="1.6"/><circle cx="452.1" cy="65.9" r="1.6"/><circle cx="447.4" cy="68.4" r="1.6"/><circle cx="456.7" cy="67.5" r="1.6"/><circle cx="452.5" cy="59.3" r="1.6"/><circle cx="456.4" cy="65.7" r="1.6"/><circle cx="449.7" cy="71.8" r="1.6"/><circle cx="452.9" cy="65.6" r="1.6"/><circle cx="459.2" cy="66.5" r="1.6"/><circle cx="453.7" cy="64.9" r="1.6"/><circle cx="457.3" cy="65.3" r="1.6"/><circle cx="456.9" cy="70.9" r="1.6"/><circle cx="452.9" cy="66.1" r="1.6"/><circle cx="454.9" cy="154.4" r="1.6"/><circle cx="458.0" cy="155.5" r="1.6"/><circle cx="453.3" cy="161.1" r="1.6"/><circle cx="451.2" cy="153.9" r="1.6"/><circle cx="452.1" cy="155.8" r="1.6"/><circle cx="445.5" cy="167.0" r="1.6"/><circle cx="454.3" cy="165.6" r="1.6"/><circle cx="451.4" cy="160.5" r="1.6"/><circle cx="456.7" cy="158.3" r="1.6"/><circle cx="449.2" cy="150.9" r="1.6"/><circle cx="452.2" cy="160.1" r="1.6"/><circle cx="449.5" cy="157.1" r="1.6"/><circle cx="449.0" cy="158.0" r="1.6"/><circle cx="457.9" cy="153.6" r="1.6"/><circle cx="452.0" cy="156.6" r="1.6"/><circle cx="456.6" cy="155.6" r="1.6"/><circle cx="448.7" cy="158.6" r="1.6"/><circle cx="454.8" cy="165.3" r="1.6"/><circle cx="445.9" cy="158.9" r="1.6"/><circle cx="451.9" cy="146.8" r="1.6"/><circle cx="451.8" cy="150.9" r="1.6"/><circle cx="457.2" cy="147.2" r="1.6"/><circle cx="455.2" cy="152.0" r="1.6"/><circle cx="453.4" cy="160.1" r="1.6"/><circle cx="458.5" cy="159.1" r="1.6"/><circle cx="455.3" cy="153.1" r="1.6"/><circle cx="457.0" cy="158.3" r="1.6"/><circle cx="458.1" cy="152.2" r="1.6"/><circle cx="454.0" cy="148.2" r="1.6"/><circle cx="452.8" cy="148.3" r="1.6"/><circle cx="455.9" cy="151.6" r="1.6"/><circle cx="452.2" cy="165.2" r="1.6"/><circle cx="456.2" cy="148.7" r="1.6"/><circle cx="459.8" cy="164.2" r="1.6"/><circle cx="458.6" cy="164.7" r="1.6"/><circle cx="452.4" cy="155.6" r="1.6"/><circle cx="447.9" cy="156.4" r="1.6"/><circle cx="454.0" cy="153.0" r="1.6"/><circle cx="453.7" cy="156.6" r="1.6"/><circle cx="459.8" cy="160.6" r="1.6"/><circle cx="456.4" cy="235.2" r="1.6"/><circle cx="457.1" cy="229.7" r="1.6"/><circle cx="451.2" cy="225.7" r="1.6"/><circle cx="458.0" cy="233.9" r="1.6"/><circle cx="461.8" cy="232.0" r="1.6"/><circle cx="452.6" cy="232.3" r="1.6"/><circle cx="457.3" cy="230.9" r="1.6"/><circle cx="448.1" cy="236.9" r="1.6"/><circle cx="446.5" cy="230.6" r="1.6"/><circle cx="456.8" cy="231.8" r="1.6"/><circle cx="454.5" cy="225.2" r="1.6"/><circle cx="455.1" cy="228.7" r="1.6"/><circle cx="452.0" cy="228.4" r="1.6"/><circle cx="453.1" cy="230.3" r="1.6"/><circle cx="457.6" cy="231.3" r="1.6"/><circle cx="450.1" cy="299.3" r="1.6"/><circle cx="462.7" cy="308.9" r="1.6"/><circle cx="456.2" cy="329.0" r="1.6"/><circle cx="459.2" cy="339.1" r="1.6"/><circle cx="460.3" cy="339.1" r="1.6"/><circle cx="451.8" cy="346.5" r="1.6"/><circle cx="448.7" cy="352.6" r="1.6"/><circle cx="452.3" cy="350.7" r="1.6"/><circle cx="452.3" cy="354.8" r="1.6"/><circle cx="457.0" cy="354.8" r="1.6"/><circle cx="464.1" cy="351.5" r="1.6"/><circle cx="455.0" cy="361.1" r="1.6"/><circle cx="454.2" cy="364.4" r="1.6"/><circle cx="450.1" cy="368.5" r="1.6"/><circle cx="455.9" cy="371.3" r="1.6"/><circle cx="458.0" cy="369.9" r="1.6"/><circle cx="454.2" cy="377.3" r="1.6"/><circle cx="449.5" cy="352.2" r="1.6"/><circle cx="455.6" cy="362.0" r="1.6"/><circle cx="496.3" cy="68.0" r="1.6"/><circle cx="506.5" cy="68.7" r="1.6"/><circle cx="500.4" cy="65.9" r="1.6"/><circle cx="500.5" cy="71.5" r="1.6"/><circle cx="498.7" cy="61.2" r="1.6"/><circle cx="505.1" cy="65.2" r="1.6"/><circle cx="500.9" cy="71.0" r="1.6"/><circle cx="502.9" cy="64.6" r="1.6"/><circle cx="495.7" cy="61.0" r="1.6"/><circle cx="505.9" cy="70.0" r="1.6"/><circle cx="503.5" cy="67.5" r="1.6"/><circle cx="504.0" cy="62.3" r="1.6"/><circle cx="506.2" cy="68.2" r="1.6"/><circle cx="501.6" cy="62.8" r="1.6"/><circle cx="501.7" cy="61.8" r="1.6"/><circle cx="504.5" cy="65.4" r="1.6"/><circle cx="503.6" cy="64.4" r="1.6"/><circle cx="501.4" cy="62.6" r="1.6"/><circle cx="502.3" cy="64.8" r="1.6"/><circle cx="500.6" cy="62.8" r="1.6"/><circle cx="501.6" cy="50.0" r="1.6"/><circle cx="499.1" cy="145.6" r="1.6"/><circle cx="497.0" cy="148.3" r="1.6"/><circle cx="496.9" cy="145.0" r="1.6"/><circle cx="499.4" cy="145.1" r="1.6"/><circle cx="498.2" cy="143.4" r="1.6"/><circle cx="504.3" cy="144.0" r="1.6"/><circle cx="505.4" cy="149.0" r="1.6"/><circle cx="501.2" cy="148.0" r="1.6"/><circle cx="497.7" cy="144.0" r="1.6"/><circle cx="505.4" cy="144.2" r="1.6"/><circle cx="494.1" cy="145.5" r="1.6"/><circle cx="494.4" cy="148.3" r="1.6"/><circle cx="505.1" cy="144.0" r="1.6"/><circle cx="504.8" cy="146.5" r="1.6"/><circle cx="506.1" cy="141.5" r="1.6"/><circle cx="501.3" cy="143.7" r="1.6"/><circle cx="497.1" cy="147.9" r="1.6"/><circle cx="506.2" cy="156.5" r="1.6"/><circle cx="496.9" cy="155.6" r="1.6"/><circle cx="498.7" cy="157.0" r="1.6"/><circle cx="505.8" cy="156.9" r="1.6"/><circle cx="500.4" cy="158.3" r="1.6"/><circle cx="499.7" cy="155.1" r="1.6"/><circle cx="504.5" cy="155.5" r="1.6"/><circle cx="503.0" cy="155.4" r="1.6"/><circle cx="507.2" cy="159.7" r="1.6"/><circle cx="505.7" cy="157.8" r="1.6"/><circle cx="499.6" cy="154.1" r="1.6"/><circle cx="501.6" cy="155.2" r="1.6"/><circle cx="501.9" cy="154.5" r="1.6"/><circle cx="496.0" cy="155.9" r="1.6"/><circle cx="497.8" cy="156.3" r="1.6"/><circle cx="506.6" cy="160.5" r="1.6"/><circle cx="495.0" cy="152.3" r="1.6"/><circle cx="506.7" cy="158.0" r="1.6"/><circle cx="508.0" cy="174.2" r="1.6"/><circle cx="508.7" cy="173.2" r="1.6"/><circle cx="500.3" cy="175.6" r="1.6"/><circle cx="509.4" cy="175.2" r="1.6"/><circle cx="511.1" cy="175.8" r="1.6"/><circle cx="504.7" cy="174.9" r="1.6"/><circle cx="497.4" cy="172.8" r="1.6"/><circle cx="509.7" cy="173.8" r="1.6"/><circle cx="501.5" cy="175.3" r="1.6"/><circle cx="500.5" cy="173.4" r="1.6"/><circle cx="501.2" cy="235.7" r="1.6"/><circle cx="507.6" cy="232.3" r="1.6"/><circle cx="502.3" cy="234.8" r="1.6"/><circle cx="499.0" cy="230.1" r="1.6"/><circle cx="504.6" cy="233.3" r="1.6"/><circle cx="499.7" cy="234.2" r="1.6"/><circle cx="507.9" cy="230.6" r="1.6"/><circle cx="506.7" cy="231.8" r="1.6"/><circle cx="502.6" cy="231.4" r="1.6"/><circle cx="505.1" cy="235.2" r="1.6"/><circle cx="504.9" cy="230.8" r="1.6"/><circle cx="501.1" cy="234.3" r="1.6"/><circle cx="506.6" cy="376.6" r="1.6"/><circle cx="509.5" cy="377.5" r="1.6"/><circle cx="510.7" cy="381.9" r="1.6"/><circle cx="498.3" cy="381.0" r="1.6"/><circle cx="501.7" cy="381.3" r="1.6"/><circle cx="499.6" cy="389.9" r="1.6"/><circle cx="504.4" cy="387.4" r="1.6"/><circle cx="510.6" cy="376.9" r="1.6"/><circle cx="507.0" cy="377.2" r="1.6"/><circle cx="499.1" cy="389.5" r="1.6"/><circle cx="502.6" cy="379.0" r="1.6"/><circle cx="508.7" cy="387.8" r="1.6"/><circle cx="501.5" cy="388.9" r="1.6"/><circle cx="503.5" cy="377.8" r="1.6"/><circle cx="505.4" cy="379.2" r="1.6"/><circle cx="495.6" cy="381.0" r="1.6"/><circle cx="507.5" cy="376.1" r="1.6"/><circle cx="505.5" cy="375.5" r="1.6"/><circle cx="506.6" cy="378.5" r="1.6"/><circle cx="499.5" cy="385.0" r="1.6"/><circle cx="548.3" cy="78.4" r="1.6"/><circle cx="549.4" cy="70.2" r="1.6"/><circle cx="548.2" cy="76.8" r="1.6"/><circle cx="544.1" cy="77.8" r="1.6"/><circle cx="557.0" cy="69.1" r="1.6"/><circle cx="539.7" cy="81.6" r="1.6"/><circle cx="547.3" cy="75.9" r="1.6"/><circle cx="552.8" cy="77.2" r="1.6"/><circle cx="544.0" cy="71.6" r="1.6"/><circle cx="553.0" cy="75.9" r="1.6"/><circle cx="555.9" cy="76.9" r="1.6"/><circle cx="546.4" cy="74.1" r="1.6"/><circle cx="551.2" cy="75.9" r="1.6"/><circle cx="545.3" cy="66.0" r="1.6"/><circle cx="552.6" cy="81.7" r="1.6"/><circle cx="550.7" cy="70.6" r="1.6"/><circle cx="551.3" cy="65.8" r="1.6"/><circle cx="556.4" cy="71.3" r="1.6"/><circle cx="552.4" cy="71.8" r="1.6"/><circle cx="556.3" cy="78.0" r="1.6"/><circle cx="553.8" cy="141.9" r="1.6"/><circle cx="553.4" cy="147.6" r="1.6"/><circle cx="547.0" cy="146.0" r="1.6"/><circle cx="551.7" cy="142.6" r="1.6"/><circle cx="548.4" cy="142.4" r="1.6"/><circle cx="546.1" cy="141.6" r="1.6"/><circle cx="546.2" cy="143.6" r="1.6"/><circle cx="551.7" cy="143.2" r="1.6"/><circle cx="553.9" cy="142.6" r="1.6"/><circle cx="545.4" cy="147.9" r="1.6"/><circle cx="550.4" cy="154.3" r="1.6"/><circle cx="547.9" cy="156.3" r="1.6"/><circle cx="547.0" cy="156.3" r="1.6"/><circle cx="562.7" cy="155.2" r="1.6"/><circle cx="548.4" cy="157.0" r="1.6"/><circle cx="542.1" cy="157.9" r="1.6"/><circle cx="546.0" cy="158.0" r="1.6"/><circle cx="548.6" cy="155.7" r="1.6"/><circle cx="548.5" cy="156.3" r="1.6"/><circle cx="549.8" cy="160.2" r="1.6"/><circle cx="545.5" cy="154.0" r="1.6"/><circle cx="552.6" cy="156.4" r="1.6"/><circle cx="548.0" cy="157.6" r="1.6"/><circle cx="544.1" cy="156.3" r="1.6"/><circle cx="546.5" cy="157.2" r="1.6"/><circle cx="548.5" cy="156.3" r="1.6"/><circle cx="554.0" cy="157.4" r="1.6"/><circle cx="552.4" cy="158.3" r="1.6"/><circle cx="548.7" cy="155.6" r="1.6"/><circle cx="550.3" cy="156.4" r="1.6"/><circle cx="551.2" cy="155.9" r="1.6"/><circle cx="559.4" cy="155.3" r="1.6"/><circle cx="547.4" cy="156.0" r="1.6"/><circle cx="552.3" cy="154.0" r="1.6"/><circle cx="553.5" cy="157.3" r="1.6"/><circle cx="550.8" cy="178.7" r="1.6"/><circle cx="552.3" cy="176.7" r="1.6"/><circle cx="550.0" cy="178.4" r="1.6"/><circle cx="548.7" cy="177.5" r="1.6"/><circle cx="546.5" cy="177.4" r="1.6"/><circle cx="551.2" cy="177.3" r="1.6"/><circle cx="549.0" cy="179.0" r="1.6"/><circle cx="549.2" cy="178.7" r="1.6"/><circle cx="553.9" cy="177.4" r="1.6"/><circle cx="552.2" cy="177.1" r="1.6"/><circle cx="547.9" cy="231.2" r="1.6"/><circle cx="546.3" cy="239.0" r="1.6"/><circle cx="548.3" cy="234.4" r="1.6"/><circle cx="554.5" cy="240.1" r="1.6"/><circle cx="547.0" cy="232.0" r="1.6"/><circle cx="553.0" cy="245.1" r="1.6"/><circle cx="553.7" cy="218.9" r="1.6"/><circle cx="541.6" cy="227.9" r="1.6"/><circle cx="544.4" cy="238.4" r="1.6"/><circle cx="548.3" cy="224.4" r="1.6"/><circle cx="547.2" cy="240.2" r="1.6"/><circle cx="551.7" cy="226.5" r="1.6"/><circle cx="540.5" cy="235.7" r="1.6"/><circle cx="553.8" cy="228.6" r="1.6"/><circle cx="553.9" cy="231.9" r="1.6"/><circle cx="549.4" cy="236.2" r="1.6"/><circle cx="543.3" cy="234.3" r="1.6"/><circle cx="550.2" cy="232.3" r="1.6"/><circle cx="551.3" cy="388.2" r="1.6"/><circle cx="550.1" cy="391.8" r="1.6"/><circle cx="550.9" cy="392.7" r="1.6"/><circle cx="549.1" cy="387.7" r="1.6"/><circle cx="551.2" cy="392.2" r="1.6"/><circle cx="552.0" cy="392.1" r="1.6"/><circle cx="550.1" cy="392.0" r="1.6"/><circle cx="552.0" cy="388.5" r="1.6"/><circle cx="546.3" cy="392.2" r="1.6"/><circle cx="548.5" cy="387.7" r="1.6"/><circle cx="553.4" cy="394.3" r="1.6"/><circle cx="554.1" cy="391.3" r="1.6"/><circle cx="550.8" cy="388.4" r="1.6"/><circle cx="550.0" cy="394.0" r="1.6"/><circle cx="556.0" cy="384.5" r="1.6"/><circle cx="546.9" cy="393.8" r="1.6"/><circle cx="561.2" cy="395.1" r="1.6"/><circle cx="545.2" cy="389.0" r="1.6"/><circle cx="551.8" cy="394.6" r="1.6"/><circle cx="556.1" cy="385.7" r="1.6"/><circle cx="589.5" cy="79.7" r="1.6"/><circle cx="601.0" cy="78.6" r="1.6"/><circle cx="591.0" cy="86.0" r="1.6"/><circle cx="599.0" cy="91.0" r="1.6"/><circle cx="595.0" cy="94.0" r="1.6"/><circle cx="600.7" cy="155.8" r="1.6"/><circle cx="596.2" cy="156.8" r="1.6"/><circle cx="596.5" cy="154.2" r="1.6"/><circle cx="601.5" cy="152.4" r="1.6"/><circle cx="602.7" cy="151.2" r="1.6"/><circle cx="601.1" cy="151.9" r="1.6"/><circle cx="602.2" cy="153.6" r="1.6"/><circle cx="599.9" cy="149.4" r="1.6"/><circle cx="601.1" cy="153.7" r="1.6"/><circle cx="601.6" cy="153.5" r="1.6"/><circle cx="599.7" cy="154.8" r="1.6"/><circle cx="598.3" cy="152.8" r="1.6"/><circle cx="598.6" cy="153.7" r="1.6"/><circle cx="607.7" cy="152.0" r="1.6"/><circle cx="598.1" cy="152.6" r="1.6"/><circle cx="597.1" cy="150.0" r="1.6"/><circle cx="596.6" cy="153.7" r="1.6"/><circle cx="597.9" cy="156.6" r="1.6"/><circle cx="599.0" cy="153.8" r="1.6"/><circle cx="593.5" cy="154.2" r="1.6"/><circle cx="590.1" cy="151.5" r="1.6"/><circle cx="599.2" cy="156.4" r="1.6"/><circle cx="591.6" cy="152.0" r="1.6"/><circle cx="599.1" cy="155.1" r="1.6"/><circle cx="598.6" cy="153.7" r="1.6"/><circle cx="601.0" cy="168.6" r="1.6"/><circle cx="595.1" cy="169.3" r="1.6"/><circle cx="596.3" cy="162.5" r="1.6"/><circle cx="596.5" cy="166.8" r="1.6"/><circle cx="595.6" cy="165.3" r="1.6"/><circle cx="599.4" cy="163.5" r="1.6"/><circle cx="602.1" cy="162.2" r="1.6"/><circle cx="605.6" cy="162.0" r="1.6"/><circle cx="602.8" cy="162.9" r="1.6"/><circle cx="602.1" cy="159.1" r="1.6"/><circle cx="602.6" cy="179.7" r="1.6"/><circle cx="599.9" cy="180.5" r="1.6"/><circle cx="600.6" cy="178.9" r="1.6"/><circle cx="601.7" cy="180.6" r="1.6"/><circle cx="603.7" cy="180.8" r="1.6"/><circle cx="597.1" cy="180.1" r="1.6"/><circle cx="599.5" cy="181.2" r="1.6"/><circle cx="592.0" cy="179.8" r="1.6"/><circle cx="588.9" cy="178.7" r="1.6"/><circle cx="590.3" cy="179.7" r="1.6"/><circle cx="607.7" cy="178.9" r="1.6"/><circle cx="590.9" cy="178.3" r="1.6"/><circle cx="600.3" cy="236.9" r="1.6"/><circle cx="603.2" cy="244.0" r="1.6"/><circle cx="585.5" cy="244.0" r="1.6"/><circle cx="599.7" cy="238.6" r="1.6"/><circle cx="603.0" cy="245.1" r="1.6"/><circle cx="607.1" cy="252.3" r="1.6"/><circle cx="598.3" cy="234.9" r="1.6"/><circle cx="590.5" cy="245.0" r="1.6"/><circle cx="600.8" cy="246.2" r="1.6"/><circle cx="595.5" cy="237.3" r="1.6"/><circle cx="590.1" cy="249.3" r="1.6"/><circle cx="595.4" cy="238.8" r="1.6"/><circle cx="603.0" cy="247.4" r="1.6"/><circle cx="604.1" cy="394.6" r="1.6"/><circle cx="601.7" cy="398.4" r="1.6"/><circle cx="598.5" cy="399.6" r="1.6"/><circle cx="594.6" cy="399.4" r="1.6"/><circle cx="600.7" cy="398.6" r="1.6"/><circle cx="606.1" cy="384.7" r="1.6"/><circle cx="596.9" cy="392.7" r="1.6"/><circle cx="595.0" cy="395.1" r="1.6"/><circle cx="601.7" cy="396.9" r="1.6"/><circle cx="592.6" cy="390.5" r="1.6"/><circle cx="589.8" cy="401.2" r="1.6"/><circle cx="597.8" cy="397.3" r="1.6"/><circle cx="596.7" cy="394.0" r="1.6"/><circle cx="598.5" cy="396.8" r="1.6"/><circle cx="597.3" cy="395.0" r="1.6"/><circle cx="601.3" cy="393.5" r="1.6"/><circle cx="598.8" cy="398.0" r="1.6"/><circle cx="597.1" cy="394.6" r="1.6"/><circle cx="640.5" cy="48.3" r="1.6"/><circle cx="643.6" cy="54.2" r="1.6"/><circle cx="645.7" cy="52.8" r="1.6"/><circle cx="641.8" cy="55.8" r="1.6"/><circle cx="651.2" cy="53.3" r="1.6"/><circle cx="641.8" cy="55.4" r="1.6"/><circle cx="653.2" cy="52.1" r="1.6"/><circle cx="649.7" cy="55.1" r="1.6"/><circle cx="642.4" cy="53.2" r="1.6"/><circle cx="646.6" cy="58.7" r="1.6"/><circle cx="650.9" cy="50.1" r="1.6"/><circle cx="645.4" cy="55.8" r="1.6"/><circle cx="641.4" cy="53.6" r="1.6"/><circle cx="646.6" cy="52.7" r="1.6"/><circle cx="654.1" cy="50.5" r="1.6"/><circle cx="640.2" cy="53.6" r="1.6"/><circle cx="648.4" cy="47.8" r="1.6"/><circle cx="646.2" cy="48.1" r="1.6"/><circle cx="645.7" cy="54.4" r="1.6"/><circle cx="644.6" cy="47.6" r="1.6"/><circle cx="644.9" cy="56.5" r="1.6"/><circle cx="650.3" cy="51.4" r="1.6"/><circle cx="648.5" cy="53.0" r="1.6"/><circle cx="642.2" cy="52.4" r="1.6"/><circle cx="652.4" cy="53.5" r="1.6"/><circle cx="639.0" cy="109.0" r="1.6"/><circle cx="653.5" cy="110.0" r="1.6"/><circle cx="631.0" cy="125.0" r="1.6"/><circle cx="644.7" cy="124.3" r="1.6"/><circle cx="644.1" cy="122.1" r="1.6"/><circle cx="645.6" cy="126.9" r="1.6"/><circle cx="652.6" cy="123.0" r="1.6"/><circle cx="653.1" cy="129.8" r="1.6"/><circle cx="654.0" cy="125.6" r="1.6"/><circle cx="648.5" cy="123.1" r="1.6"/><circle cx="645.1" cy="123.9" r="1.6"/><circle cx="636.3" cy="122.4" r="1.6"/><circle cx="650.2" cy="126.2" r="1.6"/><circle cx="651.4" cy="129.1" r="1.6"/><circle cx="643.9" cy="124.6" r="1.6"/><circle cx="651.2" cy="127.6" r="1.6"/><circle cx="654.1" cy="122.8" r="1.6"/><circle cx="646.9" cy="126.0" r="1.6"/><circle cx="652.7" cy="131.2" r="1.6"/><circle cx="648.2" cy="121.5" r="1.6"/><circle cx="635.9" cy="128.4" r="1.6"/><circle cx="643.5" cy="128.3" r="1.6"/><circle cx="643.9" cy="120.3" r="1.6"/><circle cx="649.5" cy="121.5" r="1.6"/><circle cx="641.2" cy="122.7" r="1.6"/><circle cx="643.7" cy="127.7" r="1.6"/><circle cx="640.6" cy="124.1" r="1.6"/><circle cx="646.1" cy="124.8" r="1.6"/><circle cx="646.8" cy="127.0" r="1.6"/><circle cx="652.2" cy="125.5" r="1.6"/><circle cx="651.1" cy="125.8" r="1.6"/><circle cx="647.3" cy="124.4" r="1.6"/><circle cx="647.8" cy="128.1" r="1.6"/><circle cx="647.0" cy="123.2" r="1.6"/><circle cx="647.0" cy="129.6" r="1.6"/><circle cx="655.6" cy="124.3" r="1.6"/><circle cx="633.4" cy="123.1" r="1.6"/><circle cx="645.3" cy="126.9" r="1.6"/><circle cx="648.2" cy="126.4" r="1.6"/><circle cx="653.1" cy="120.0" r="1.6"/><circle cx="639.8" cy="125.8" r="1.6"/><circle cx="648.4" cy="121.7" r="1.6"/><circle cx="651.5" cy="123.0" r="1.6"/><circle cx="643.7" cy="127.2" r="1.6"/><circle cx="634.9" cy="123.0" r="1.6"/><circle cx="651.4" cy="193.1" r="1.6"/><circle cx="645.2" cy="183.6" r="1.6"/><circle cx="641.4" cy="184.1" r="1.6"/><circle cx="648.4" cy="187.1" r="1.6"/><circle cx="641.5" cy="187.4" r="1.6"/><circle cx="633.9" cy="184.9" r="1.6"/><circle cx="651.1" cy="186.6" r="1.6"/><circle cx="641.0" cy="182.9" r="1.6"/><circle cx="638.5" cy="185.7" r="1.6"/><circle cx="636.2" cy="188.3" r="1.6"/><circle cx="647.2" cy="190.0" r="1.6"/><circle cx="639.9" cy="186.0" r="1.6"/><circle cx="649.8" cy="185.8" r="1.6"/><circle cx="643.6" cy="187.4" r="1.6"/><circle cx="653.0" cy="188.8" r="1.6"/><circle cx="642.8" cy="187.4" r="1.6"/><circle cx="640.9" cy="184.7" r="1.6"/><circle cx="633.9" cy="187.2" r="1.6"/><circle cx="637.8" cy="188.5" r="1.6"/><circle cx="650.5" cy="184.8" r="1.6"/>
</g>
<g fill="#daa520" fill-opacity="0.2" filter="url(#sb)">
<circle cx="407.6" cy="129.0" r="1.6"/><circle cx="394.2" cy="128.6" r="1.6"/><circle cx="403.5" cy="131.9" r="1.6"/><circle cx="406.4" cy="129.2" r="1.6"/><circle cx="411.5" cy="126.3" r="1.6"/><circle cx="405.2" cy="132.1" r="1.6"/><circle cx="405.4" cy="128.7" r="1.6"/><circle cx="403.4" cy="131.4" r="1.6"/><circle cx="410.0" cy="131.4" r="1.6"/><circle cx="404.4" cy="133.5" r="1.6"/><circle cx="408.9" cy="155.1" r="1.6"/><circle cx="400.4" cy="162.7" r="1.6"/><circle cx="404.3" cy="153.7" r="1.6"/><circle cx="411.7" cy="155.1" r="1.6"/><circle cx="402.2" cy="157.4" r="1.6"/><circle cx="411.5" cy="152.2" r="1.6"/><circle cx="402.9" cy="155.1" r="1.6"/><circle cx="414.9" cy="158.4" r="1.6"/><circle cx="414.0" cy="155.7" r="1.6"/><circle cx="404.1" cy="156.3" r="1.6"/><circle cx="405.5" cy="153.8" r="1.6"/><circle cx="402.1" cy="156.1" r="1.6"/><circle cx="407.8" cy="155.2" r="1.6"/><circle cx="413.0" cy="160.1" r="1.6"/><circle cx="398.7" cy="157.5" r="1.6"/><circle cx="411.7" cy="154.1" r="1.6"/><circle cx="399.4" cy="146.4" r="1.6"/><circle cx="402.0" cy="157.5" r="1.6"/><circle cx="396.8" cy="157.6" r="1.6"/><circle cx="418.3" cy="151.8" r="1.6"/><circle cx="407.0" cy="148.0" r="1.6"/><circle cx="408.0" cy="151.0" r="1.6"/><circle cx="403.0" cy="158.2" r="1.6"/><circle cx="412.5" cy="151.3" r="1.6"/><circle cx="395.1" cy="153.4" r="1.6"/><circle cx="411.5" cy="197.3" r="1.6"/><circle cx="405.9" cy="190.7" r="1.6"/><circle cx="404.6" cy="188.6" r="1.6"/><circle cx="407.2" cy="193.1" r="1.6"/><circle cx="411.2" cy="188.1" r="1.6"/><circle cx="408.3" cy="194.9" r="1.6"/><circle cx="410.1" cy="189.9" r="1.6"/><circle cx="396.6" cy="195.8" r="1.6"/><circle cx="412.6" cy="197.4" r="1.6"/><circle cx="418.4" cy="183.9" r="1.6"/><circle cx="401.3" cy="212.2" r="1.6"/><circle cx="408.4" cy="197.6" r="1.6"/><circle cx="410.2" cy="221.4" r="1.6"/><circle cx="407.8" cy="232.1" r="1.6"/><circle cx="414.5" cy="201.2" r="1.6"/><circle cx="412.8" cy="229.3" r="1.6"/><circle cx="402.6" cy="197.1" r="1.6"/><circle cx="407.3" cy="225.6" r="1.6"/><circle cx="402.5" cy="216.2" r="1.6"/><circle cx="409.6" cy="232.4" r="1.6"/><circle cx="402.3" cy="231.1" r="1.6"/><circle cx="411.3" cy="198.8" r="1.6"/><circle cx="408.6" cy="216.4" r="1.6"/><circle cx="411.5" cy="206.4" r="1.6"/><circle cx="406.0" cy="214.1" r="1.6"/><circle cx="399.4" cy="199.6" r="1.6"/><circle cx="415.5" cy="211.1" r="1.6"/><circle cx="405.8" cy="212.9" r="1.6"/><circle cx="413.6" cy="197.2" r="1.6"/><circle cx="408.8" cy="215.5" r="1.6"/><circle cx="410.0" cy="231.9" r="1.6"/><circle cx="415.8" cy="199.4" r="1.6"/><circle cx="408.4" cy="233.8" r="1.6"/><circle cx="413.7" cy="216.1" r="1.6"/><circle cx="399.3" cy="205.2" r="1.6"/><circle cx="411.0" cy="234.8" r="1.6"/><circle cx="450.4" cy="126.8" r="1.6"/><circle cx="442.1" cy="129.1" r="1.6"/><circle cx="452.2" cy="125.6" r="1.6"/><circle cx="446.7" cy="126.2" r="1.6"/><circle cx="447.2" cy="125.8" r="1.6"/><circle cx="457.7" cy="126.3" r="1.6"/><circle cx="457.4" cy="129.3" r="1.6"/><circle cx="446.9" cy="126.0" r="1.6"/><circle cx="457.9" cy="126.3" r="1.6"/><circle cx="456.4" cy="126.6" r="1.6"/><circle cx="454.3" cy="154.9" r="1.6"/><circle cx="458.8" cy="157.0" r="1.6"/><circle cx="459.6" cy="154.9" r="1.6"/><circle cx="455.8" cy="154.7" r="1.6"/><circle cx="455.8" cy="157.5" r="1.6"/><circle cx="454.0" cy="156.6" r="1.6"/><circle cx="455.8" cy="155.8" r="1.6"/><circle cx="449.3" cy="156.5" r="1.6"/><circle cx="456.1" cy="156.7" r="1.6"/><circle cx="455.2" cy="153.8" r="1.6"/><circle cx="450.4" cy="155.4" r="1.6"/><circle cx="464.0" cy="154.0" r="1.6"/><circle cx="449.9" cy="155.7" r="1.6"/><circle cx="450.4" cy="154.7" r="1.6"/><circle cx="455.5" cy="157.3" r="1.6"/><circle cx="445.6" cy="156.2" r="1.6"/><circle cx="450.7" cy="154.5" r="1.6"/><circle cx="447.4" cy="155.5" r="1.6"/><circle cx="449.9" cy="154.0" r="1.6"/><circle cx="453.7" cy="155.6" r="1.6"/><circle cx="455.7" cy="156.2" r="1.6"/><circle cx="459.2" cy="155.9" r="1.6"/><circle cx="457.9" cy="153.0" r="1.6"/><circle cx="459.6" cy="155.1" r="1.6"/><circle cx="456.9" cy="156.2" r="1.6"/><circle cx="452.0" cy="196.3" r="1.6"/><circle cx="448.2" cy="198.9" r="1.6"/><circle cx="456.6" cy="197.7" r="1.6"/><circle cx="448.8" cy="200.6" r="1.6"/><circle cx="449.4" cy="219.8" r="1.6"/><circle cx="454.3" cy="230.6" r="1.6"/><circle cx="452.7" cy="222.6" r="1.6"/><circle cx="456.6" cy="222.0" r="1.6"/><circle cx="458.7" cy="214.0" r="1.6"/><circle cx="445.0" cy="227.3" r="1.6"/><circle cx="454.0" cy="219.8" r="1.6"/><circle cx="462.1" cy="220.6" r="1.6"/><circle cx="457.8" cy="212.4" r="1.6"/><circle cx="460.1" cy="225.0" r="1.6"/><circle cx="454.7" cy="225.2" r="1.6"/><circle cx="448.5" cy="218.8" r="1.6"/><circle cx="449.8" cy="221.6" r="1.6"/><circle cx="457.1" cy="222.8" r="1.6"/><circle cx="458.1" cy="225.1" r="1.6"/><circle cx="451.4" cy="221.7" r="1.6"/><circle cx="453.2" cy="228.2" r="1.6"/><circle cx="455.3" cy="220.3" r="1.6"/><circle cx="447.3" cy="218.8" r="1.6"/><circle cx="452.9" cy="219.4" r="1.6"/><circle cx="460.8" cy="211.1" r="1.6"/><circle cx="463.0" cy="218.0" r="1.6"/><circle cx="453.9" cy="225.3" r="1.6"/><circle cx="461.6" cy="222.3" r="1.6"/><circle cx="452.2" cy="218.0" r="1.6"/><circle cx="451.0" cy="222.7" r="1.6"/><circle cx="445.3" cy="213.2" r="1.6"/><circle cx="458.1" cy="220.1" r="1.6"/><circle cx="445.0" cy="208.0" r="1.6"/><circle cx="463.0" cy="212.0" r="1.6"/><circle cx="502.4" cy="131.1" r="1.6"/><circle cx="502.0" cy="120.2" r="1.6"/><circle cx="505.9" cy="123.6" r="1.6"/><circle cx="499.8" cy="128.3" r="1.6"/><circle cx="495.4" cy="122.0" r="1.6"/><circle cx="495.5" cy="133.0" r="1.6"/><circle cx="500.9" cy="131.2" r="1.6"/><circle cx="509.8" cy="124.5" r="1.6"/><circle cx="506.4" cy="124.6" r="1.6"/><circle cx="498.9" cy="121.5" r="1.6"/><circle cx="506.8" cy="121.2" r="1.6"/><circle cx="496.3" cy="128.6" r="1.6"/><circle cx="507.2" cy="129.3" r="1.6"/><circle cx="500.2" cy="128.2" r="1.6"/><circle cx="506.0" cy="127.9" r="1.6"/><circle cx="505.2" cy="124.6" r="1.6"/><circle cx="500.7" cy="128.3" r="1.6"/><circle cx="503.8" cy="120.9" r="1.6"/><circle cx="496.8" cy="126.8" r="1.6"/><circle cx="501.8" cy="132.7" r="1.6"/><circle cx="507.6" cy="132.1" r="1.6"/><circle cx="514.9" cy="125.0" r="1.6"/><circle cx="505.7" cy="125.5" r="1.6"/><circle cx="502.6" cy="132.3" r="1.6"/><circle cx="497.0" cy="134.0" r="1.6"/><circle cx="504.1" cy="150.7" r="1.6"/><circle cx="499.0" cy="153.0" r="1.6"/><circle cx="501.5" cy="153.0" r="1.6"/><circle cx="499.9" cy="155.1" r="1.6"/><circle cx="502.4" cy="148.9" r="1.6"/><circle cx="506.7" cy="151.6" r="1.6"/><circle cx="495.3" cy="153.5" r="1.6"/><circle cx="508.1" cy="150.1" r="1.6"/><circle cx="500.5" cy="151.6" r="1.6"/><circle cx="509.0" cy="155.1" r="1.6"/><circle cx="504.0" cy="154.1" r="1.6"/><circle cx="507.8" cy="150.6" r="1.6"/><circle cx="504.7" cy="154.1" r="1.6"/><circle cx="507.1" cy="153.7" r="1.6"/><circle cx="502.4" cy="153.1" r="1.6"/><circle cx="505.8" cy="219.7" r="1.6"/><circle cx="501.7" cy="228.0" r="1.6"/><circle cx="502.5" cy="213.8" r="1.6"/><circle cx="512.0" cy="217.9" r="1.6"/><circle cx="499.0" cy="227.8" r="1.6"/><circle cx="504.0" cy="222.3" r="1.6"/><circle cx="511.0" cy="219.8" r="1.6"/><circle cx="504.3" cy="224.8" r="1.6"/><circle cx="491.1" cy="218.0" r="1.6"/><circle cx="504.4" cy="223.4" r="1.6"/><circle cx="500.2" cy="212.4" r="1.6"/><circle cx="501.7" cy="220.8" r="1.6"/><circle cx="508.1" cy="219.9" r="1.6"/><circle cx="504.9" cy="225.6" r="1.6"/><circle cx="500.9" cy="227.2" r="1.6"/><circle cx="507.3" cy="218.9" r="1.6"/><circle cx="504.8" cy="230.7" r="1.6"/><circle cx="502.9" cy="220.2" r="1.6"/><circle cx="504.0" cy="213.1" r="1.6"/><circle cx="503.8" cy="211.6" r="1.6"/><circle cx="500.5" cy="230.4" r="1.6"/><circle cx="499.8" cy="222.6" r="1.6"/><circle cx="502.5" cy="219.9" r="1.6"/><circle cx="497.1" cy="219.4" r="1.6"/><circle cx="495.4" cy="217.8" r="1.6"/><circle cx="509.5" cy="229.5" r="1.6"/><circle cx="501.0" cy="222.6" r="1.6"/><circle cx="502.2" cy="231.6" r="1.6"/><circle cx="501.6" cy="222.0" r="1.6"/><circle cx="502.5" cy="211.7" r="1.6"/><circle cx="502.5" cy="227.1" r="1.6"/><circle cx="502.7" cy="221.2" r="1.6"/><circle cx="497.9" cy="221.9" r="1.6"/><circle cx="507.5" cy="230.5" r="1.6"/><circle cx="498.1" cy="262.9" r="1.6"/><circle cx="505.8" cy="257.6" r="1.6"/><circle cx="503.8" cy="264.3" r="1.6"/><circle cx="494.2" cy="261.8" r="1.6"/><circle cx="502.5" cy="262.4" r="1.6"/><circle cx="496.8" cy="257.9" r="1.6"/><circle cx="510.9" cy="262.1" r="1.6"/><circle cx="500.2" cy="261.1" r="1.6"/><circle cx="500.5" cy="258.7" r="1.6"/><circle cx="502.9" cy="265.8" r="1.6"/><circle cx="501.4" cy="261.5" r="1.6"/><circle cx="502.1" cy="259.4" r="1.6"/><circle cx="510.2" cy="260.5" r="1.6"/><circle cx="503.6" cy="262.3" r="1.6"/><circle cx="506.6" cy="262.9" r="1.6"/><circle cx="545.3" cy="131.2" r="1.6"/><circle cx="551.9" cy="131.1" r="1.6"/><circle cx="545.0" cy="130.3" r="1.6"/><circle cx="562.4" cy="132.2" r="1.6"/><circle cx="553.3" cy="131.6" r="1.6"/><circle cx="561.1" cy="130.4" r="1.6"/><circle cx="544.7" cy="134.3" r="1.6"/><circle cx="554.0" cy="135.4" r="1.6"/><circle cx="545.0" cy="130.8" r="1.6"/><circle cx="553.5" cy="132.6" r="1.6"/><circle cx="554.0" cy="134.1" r="1.6"/><circle cx="541.5" cy="133.5" r="1.6"/><circle cx="550.8" cy="155.4" r="1.6"/><circle cx="555.4" cy="158.1" r="1.6"/><circle cx="551.6" cy="157.5" r="1.6"/><circle cx="553.7" cy="155.7" r="1.6"/><circle cx="552.4" cy="156.9" r="1.6"/><circle cx="553.5" cy="155.4" r="1.6"/><circle cx="550.9" cy="154.4" r="1.6"/><circle cx="546.5" cy="155.2" r="1.6"/><circle cx="549.2" cy="154.2" r="1.6"/><circle cx="549.9" cy="156.4" r="1.6"/><circle cx="555.9" cy="155.6" r="1.6"/><circle cx="557.5" cy="156.5" r="1.6"/><circle cx="552.1" cy="156.8" r="1.6"/><circle cx="546.8" cy="150.9" r="1.6"/><circle cx="546.9" cy="156.1" r="1.6"/><circle cx="549.4" cy="152.9" r="1.6"/><circle cx="556.4" cy="155.8" r="1.6"/><circle cx="551.7" cy="154.3" r="1.6"/><circle cx="550.0" cy="155.8" r="1.6"/><circle cx="546.8" cy="157.6" r="1.6"/><circle cx="554.2" cy="153.0" r="1.6"/><circle cx="551.5" cy="155.9" r="1.6"/><circle cx="550.0" cy="155.5" r="1.6"/><circle cx="550.7" cy="152.8" r="1.6"/><circle cx="557.8" cy="156.6" r="1.6"/><circle cx="540.5" cy="227.4" r="1.6"/><circle cx="551.5" cy="236.0" r="1.6"/><circle cx="554.9" cy="224.4" r="1.6"/><circle cx="548.8" cy="227.0" r="1.6"/><circle cx="556.7" cy="221.1" r="1.6"/><circle cx="550.4" cy="241.2" r="1.6"/><circle cx="558.5" cy="236.8" r="1.6"/><circle cx="552.0" cy="233.5" r="1.6"/><circle cx="544.4" cy="232.2" r="1.6"/><circle cx="546.7" cy="228.7" r="1.6"/><circle cx="541.8" cy="228.8" r="1.6"/><circle cx="540.6" cy="234.4" r="1.6"/><circle cx="551.7" cy="227.1" r="1.6"/><circle cx="555.0" cy="237.8" r="1.6"/><circle cx="560.9" cy="228.3" r="1.6"/><circle cx="549.9" cy="226.2" r="1.6"/><circle cx="548.9" cy="238.1" r="1.6"/><circle cx="544.1" cy="230.2" r="1.6"/><circle cx="555.6" cy="234.1" r="1.6"/><circle cx="552.3" cy="228.7" r="1.6"/><circle cx="546.9" cy="218.6" r="1.6"/><circle cx="554.0" cy="234.0" r="1.6"/><circle cx="553.3" cy="223.6" r="1.6"/><circle cx="539.9" cy="237.0" r="1.6"/><circle cx="554.3" cy="222.5" r="1.6"/><circle cx="550.9" cy="220.7" r="1.6"/><circle cx="548.0" cy="232.7" r="1.6"/><circle cx="547.9" cy="233.3" r="1.6"/><circle cx="559.8" cy="231.6" r="1.6"/><circle cx="558.6" cy="224.3" r="1.6"/><circle cx="560.2" cy="235.9" r="1.6"/><circle cx="543.9" cy="222.9" r="1.6"/><circle cx="549.8" cy="269.0" r="1.6"/><circle cx="562.7" cy="272.5" r="1.6"/><circle cx="549.0" cy="271.7" r="1.6"/><circle cx="544.9" cy="267.8" r="1.6"/><circle cx="551.5" cy="270.7" r="1.6"/><circle cx="548.5" cy="274.4" r="1.6"/><circle cx="548.5" cy="273.4" r="1.6"/><circle cx="549.7" cy="269.9" r="1.6"/><circle cx="554.5" cy="272.0" r="1.6"/><circle cx="551.5" cy="268.5" r="1.6"/><circle cx="543.6" cy="266.8" r="1.6"/><circle cx="549.5" cy="271.2" r="1.6"/><circle cx="552.8" cy="270.5" r="1.6"/><circle cx="596.1" cy="138.2" r="1.6"/><circle cx="598.1" cy="139.5" r="1.6"/><circle cx="589.8" cy="138.6" r="1.6"/><circle cx="597.2" cy="139.6" r="1.6"/><circle cx="597.6" cy="138.7" r="1.6"/><circle cx="593.1" cy="137.5" r="1.6"/><circle cx="591.1" cy="138.9" r="1.6"/><circle cx="599.7" cy="138.7" r="1.6"/><circle cx="593.7" cy="156.1" r="1.6"/><circle cx="602.7" cy="151.0" r="1.6"/><circle cx="598.1" cy="154.2" r="1.6"/><circle cx="598.8" cy="150.0" r="1.6"/><circle cx="600.1" cy="152.1" r="1.6"/><circle cx="597.9" cy="153.1" r="1.6"/><circle cx="596.3" cy="149.9" r="1.6"/><circle cx="600.1" cy="150.7" r="1.6"/><circle cx="596.2" cy="154.3" r="1.6"/><circle cx="598.3" cy="154.1" r="1.6"/><circle cx="595.0" cy="153.8" r="1.6"/><circle cx="591.3" cy="152.6" r="1.6"/><circle cx="595.0" cy="157.9" r="1.6"/><circle cx="595.8" cy="153.7" r="1.6"/><circle cx="598.1" cy="152.4" r="1.6"/><circle cx="613.0" cy="150.7" r="1.6"/><circle cx="597.6" cy="233.4" r="1.6"/><circle cx="590.8" cy="241.5" r="1.6"/><circle cx="598.1" cy="236.7" r="1.6"/><circle cx="586.3" cy="235.4" r="1.6"/><circle cx="596.5" cy="231.4" r="1.6"/><circle cx="607.1" cy="235.2" r="1.6"/><circle cx="599.9" cy="241.4" r="1.6"/><circle cx="604.3" cy="218.7" r="1.6"/><circle cx="596.0" cy="232.3" r="1.6"/><circle cx="590.6" cy="230.3" r="1.6"/><circle cx="595.5" cy="231.1" r="1.6"/><circle cx="596.0" cy="219.4" r="1.6"/><circle cx="604.8" cy="238.3" r="1.6"/><circle cx="609.0" cy="227.3" r="1.6"/><circle cx="594.1" cy="231.6" r="1.6"/><circle cx="596.2" cy="229.7" r="1.6"/><circle cx="597.4" cy="221.5" r="1.6"/><circle cx="596.2" cy="230.1" r="1.6"/><circle cx="591.3" cy="220.3" r="1.6"/><circle cx="598.7" cy="226.6" r="1.6"/><circle cx="600.2" cy="231.0" r="1.6"/><circle cx="600.3" cy="233.2" r="1.6"/><circle cx="591.5" cy="233.6" r="1.6"/><circle cx="597.6" cy="232.3" r="1.6"/><circle cx="588.6" cy="248.2" r="1.6"/><circle cx="603.2" cy="236.3" r="1.6"/><circle cx="592.6" cy="224.7" r="1.6"/><circle cx="596.7" cy="228.9" r="1.6"/><circle cx="595.7" cy="228.6" r="1.6"/><circle cx="595.0" cy="232.0" r="1.6"/><circle cx="592.4" cy="229.0" r="1.6"/><circle cx="588.5" cy="227.2" r="1.6"/><circle cx="607.7" cy="244.8" r="1.6"/><circle cx="599.6" cy="233.5" r="1.6"/><circle cx="599.7" cy="230.9" r="1.6"/><circle cx="609.7" cy="231.5" r="1.6"/><circle cx="597.6" cy="231.7" r="1.6"/><circle cx="601.2" cy="243.0" r="1.6"/><circle cx="596.1" cy="280.2" r="1.6"/><circle cx="602.0" cy="275.7" r="1.6"/><circle cx="599.7" cy="278.6" r="1.6"/><circle cx="602.8" cy="279.9" r="1.6"/><circle cx="599.8" cy="284.1" r="1.6"/><circle cx="597.0" cy="280.6" r="1.6"/><circle cx="602.7" cy="279.4" r="1.6"/><circle cx="600.2" cy="282.6" r="1.6"/><circle cx="600.0" cy="279.4" r="1.6"/><circle cx="599.9" cy="279.6" r="1.6"/><circle cx="602.5" cy="280.0" r="1.6"/><circle cx="602.0" cy="275.9" r="1.6"/><circle cx="645.8" cy="132.0" r="1.6"/><circle cx="636.2" cy="120.5" r="1.6"/><circle cx="640.4" cy="126.8" r="1.6"/><circle cx="638.9" cy="127.4" r="1.6"/><circle cx="649.9" cy="126.5" r="1.6"/><circle cx="638.8" cy="123.2" r="1.6"/><circle cx="647.7" cy="125.5" r="1.6"/><circle cx="643.2" cy="124.7" r="1.6"/><circle cx="638.7" cy="122.8" r="1.6"/><circle cx="636.6" cy="125.9" r="1.6"/><circle cx="648.8" cy="124.8" r="1.6"/><circle cx="648.4" cy="124.4" r="1.6"/><circle cx="650.7" cy="128.1" r="1.6"/><circle cx="657.0" cy="122.8" r="1.6"/><circle cx="647.7" cy="127.3" r="1.6"/><circle cx="647.7" cy="124.2" r="1.6"/><circle cx="645.3" cy="127.3" r="1.6"/><circle cx="646.7" cy="126.2" r="1.6"/><circle cx="643.9" cy="126.7" r="1.6"/><circle cx="640.6" cy="123.1" r="1.6"/><circle cx="640.8" cy="132.8" r="1.6"/><circle cx="640.3" cy="134.4" r="1.6"/><circle cx="647.0" cy="139.1" r="1.6"/><circle cx="650.7" cy="135.5" r="1.6"/><circle cx="652.9" cy="138.6" r="1.6"/><circle cx="642.6" cy="133.5" r="1.6"/><circle cx="646.4" cy="137.9" r="1.6"/><circle cx="635.3" cy="140.9" r="1.6"/><circle cx="633.4" cy="138.0" r="1.6"/><circle cx="640.2" cy="128.5" r="1.6"/><circle cx="641.5" cy="139.3" r="1.6"/><circle cx="635.8" cy="137.0" r="1.6"/><circle cx="634.3" cy="133.4" r="1.6"/><circle cx="649.3" cy="142.1" r="1.6"/><circle cx="640.6" cy="130.2" r="1.6"/><circle cx="634.9" cy="143.9" r="1.6"/><circle cx="658.4" cy="134.4" r="1.6"/><circle cx="646.9" cy="142.8" r="1.6"/><circle cx="643.7" cy="136.6" r="1.6"/><circle cx="650.2" cy="131.8" r="1.6"/><circle cx="640.9" cy="137.2" r="1.6"/><circle cx="656.1" cy="138.1" r="1.6"/><circle cx="635.8" cy="138.8" r="1.6"/><circle cx="637.3" cy="140.8" r="1.6"/><circle cx="644.9" cy="133.4" r="1.6"/><circle cx="640.8" cy="138.7" r="1.6"/><circle cx="654.9" cy="139.6" r="1.6"/><circle cx="635.3" cy="135.8" r="1.6"/><circle cx="641.0" cy="133.3" r="1.6"/><circle cx="647.3" cy="133.2" r="1.6"/><circle cx="649.4" cy="139.6" r="1.6"/><circle cx="652.2" cy="139.8" r="1.6"/><circle cx="647.9" cy="133.7" r="1.6"/><circle cx="658.4" cy="131.7" r="1.6"/><circle cx="642.6" cy="141.5" r="1.6"/><circle cx="646.8" cy="130.9" r="1.6"/><circle cx="651.2" cy="137.4" r="1.6"/><circle cx="643.6" cy="133.7" r="1.6"/><circle cx="643.8" cy="130.1" r="1.6"/><circle cx="642.7" cy="137.3" r="1.6"/><circle cx="641.5" cy="136.1" r="1.6"/><circle cx="638.3" cy="142.2" r="1.6"/><circle cx="642.1" cy="145.4" r="1.6"/><circle cx="635.6" cy="136.1" r="1.6"/><circle cx="648.1" cy="140.7" r="1.6"/><circle cx="635.3" cy="140.7" r="1.6"/><circle cx="658.4" cy="134.8" r="1.6"/><circle cx="656.6" cy="133.5" r="1.6"/><circle cx="652.8" cy="142.9" r="1.6"/><circle cx="644.2" cy="135.4" r="1.6"/><circle cx="641.8" cy="136.7" r="1.6"/><circle cx="653.5" cy="135.7" r="1.6"/><circle cx="646.8" cy="136.3" r="1.6"/><circle cx="649.2" cy="134.5" r="1.6"/><circle cx="640.9" cy="139.6" r="1.6"/><circle cx="652.5" cy="141.5" r="1.6"/><circle cx="640.4" cy="135.4" r="1.6"/><circle cx="646.3" cy="131.6" r="1.6"/><circle cx="634.4" cy="137.0" r="1.6"/><circle cx="641.3" cy="131.2" r="1.6"/><circle cx="648.8" cy="134.4" r="1.6"/><circle cx="642.7" cy="141.4" r="1.6"/><circle cx="642.7" cy="145.6" r="1.6"/><circle cx="650.7" cy="138.2" r="1.6"/><circle cx="645.1" cy="132.8" r="1.6"/><circle cx="653.6" cy="139.7" r="1.6"/><circle cx="633.4" cy="128.3" r="1.6"/><circle cx="649.2" cy="134.2" r="1.6"/><circle cx="648.8" cy="142.5" r="1.6"/><circle cx="635.6" cy="139.6" r="1.6"/><circle cx="637.1" cy="131.6" r="1.6"/><circle cx="651.2" cy="130.5" r="1.6"/>
</g>
<g fill="#22a022" fill-opacity="0.2" filter="url(#sb)">
<circle cx="411.9" cy="131.2" r="1.6"/><circle cx="403.8" cy="131.3" r="1.6"/><circle cx="405.8" cy="131.1" r="1.6"/><circle cx="400.2" cy="132.6" r="1.6"/><circle cx="415.1" cy="132.3" r="1.6"/><circle cx="408.9" cy="127.0" r="1.6"/><circle cx="413.7" cy="133.7" r="1.6"/><circle cx="405.1" cy="129.7" r="1.6"/><circle cx="396.4" cy="129.8" r="1.6"/><circle cx="414.3" cy="135.3" r="1.6"/><circle cx="407.8" cy="157.8" r="1.6"/><circle cx="412.8" cy="159.6" r="1.6"/><circle cx="406.6" cy="163.7" r="1.6"/><circle cx="406.2" cy="159.8" r="1.6"/><circle cx="403.9" cy="164.7" r="1.6"/><circle cx="414.8" cy="163.1" r="1.6"/><circle cx="412.0" cy="162.9" r="1.6"/><circle cx="406.2" cy="164.0" r="1.6"/><circle cx="409.7" cy="173.0" r="1.6"/><circle cx="401.5" cy="169.6" r="1.6"/><circle cx="404.7" cy="168.4" r="1.6"/><circle cx="419.2" cy="170.2" r="1.6"/><circle cx="399.4" cy="167.6" r="1.6"/><circle cx="403.8" cy="170.5" r="1.6"/><circle cx="413.1" cy="171.1" r="1.6"/><circle cx="405.7" cy="170.1" r="1.6"/><circle cx="401.8" cy="171.6" r="1.6"/><circle cx="398.7" cy="169.9" r="1.6"/><circle cx="409.9" cy="170.5" r="1.6"/><circle cx="412.8" cy="167.6" r="1.6"/><circle cx="415.1" cy="170.6" r="1.6"/><circle cx="407.0" cy="168.8" r="1.6"/><circle cx="412.9" cy="169.6" r="1.6"/><circle cx="400.5" cy="170.3" r="1.6"/><circle cx="407.7" cy="170.9" r="1.6"/><circle cx="402.6" cy="167.2" r="1.6"/><circle cx="407.7" cy="167.4" r="1.6"/><circle cx="411.2" cy="169.9" r="1.6"/><circle cx="413.1" cy="171.4" r="1.6"/><circle cx="400.7" cy="171.2" r="1.6"/><circle cx="411.1" cy="188.4" r="1.6"/><circle cx="413.2" cy="193.7" r="1.6"/><circle cx="409.2" cy="193.5" r="1.6"/><circle cx="406.6" cy="191.2" r="1.6"/><circle cx="401.5" cy="190.5" r="1.6"/><circle cx="401.9" cy="200.0" r="1.6"/><circle cx="404.3" cy="189.3" r="1.6"/><circle cx="408.0" cy="191.2" r="1.6"/><circle cx="407.8" cy="192.9" r="1.6"/><circle cx="406.7" cy="188.0" r="1.6"/><circle cx="405.9" cy="192.4" r="1.6"/><circle cx="409.8" cy="198.3" r="1.6"/><circle cx="407.7" cy="195.3" r="1.6"/><circle cx="408.2" cy="194.2" r="1.6"/><circle cx="408.2" cy="194.1" r="1.6"/><circle cx="403.9" cy="192.4" r="1.6"/><circle cx="399.7" cy="213.3" r="1.6"/><circle cx="404.3" cy="206.1" r="1.6"/><circle cx="406.8" cy="214.5" r="1.6"/><circle cx="406.3" cy="213.5" r="1.6"/><circle cx="406.3" cy="206.9" r="1.6"/><circle cx="410.3" cy="204.6" r="1.6"/><circle cx="404.3" cy="208.8" r="1.6"/><circle cx="400.4" cy="221.3" r="1.6"/><circle cx="400.5" cy="202.5" r="1.6"/><circle cx="417.2" cy="229.9" r="1.6"/><circle cx="394.9" cy="204.8" r="1.6"/><circle cx="405.8" cy="206.0" r="1.6"/><circle cx="455.3" cy="134.4" r="1.6"/><circle cx="453.2" cy="130.8" r="1.6"/><circle cx="458.0" cy="130.5" r="1.6"/><circle cx="451.7" cy="130.0" r="1.6"/><circle cx="449.4" cy="132.7" r="1.6"/><circle cx="452.5" cy="132.9" r="1.6"/><circle cx="454.7" cy="131.7" r="1.6"/><circle cx="450.8" cy="132.0" r="1.6"/><circle cx="455.6" cy="134.3" r="1.6"/><circle cx="461.8" cy="133.5" r="1.6"/><circle cx="452.2" cy="129.4" r="1.6"/><circle cx="454.7" cy="131.9" r="1.6"/><circle cx="441.8" cy="137.0" r="1.6"/><circle cx="461.0" cy="137.0" r="1.6"/><circle cx="455.5" cy="170.7" r="1.6"/><circle cx="458.9" cy="173.5" r="1.6"/><circle cx="449.2" cy="172.6" r="1.6"/><circle cx="456.4" cy="172.1" r="1.6"/><circle cx="451.7" cy="167.5" r="1.6"/><circle cx="455.1" cy="170.5" r="1.6"/><circle cx="455.9" cy="171.6" r="1.6"/><circle cx="457.0" cy="171.4" r="1.6"/><circle cx="452.0" cy="171.4" r="1.6"/><circle cx="455.0" cy="170.3" r="1.6"/><circle cx="449.6" cy="173.9" r="1.6"/><circle cx="448.7" cy="173.4" r="1.6"/><circle cx="456.5" cy="170.5" r="1.6"/><circle cx="454.1" cy="168.9" r="1.6"/><circle cx="447.8" cy="174.4" r="1.6"/><circle cx="450.9" cy="169.7" r="1.6"/><circle cx="459.9" cy="187.6" r="1.6"/><circle cx="462.1" cy="186.4" r="1.6"/><circle cx="453.5" cy="188.6" r="1.6"/><circle cx="457.2" cy="185.8" r="1.6"/><circle cx="455.3" cy="185.7" r="1.6"/><circle cx="457.9" cy="190.9" r="1.6"/><circle cx="457.3" cy="184.7" r="1.6"/><circle cx="462.2" cy="185.4" r="1.6"/><circle cx="454.5" cy="204.8" r="1.6"/><circle cx="450.1" cy="200.7" r="1.6"/><circle cx="445.9" cy="200.7" r="1.6"/><circle cx="458.5" cy="195.1" r="1.6"/><circle cx="451.1" cy="198.8" r="1.6"/><circle cx="452.1" cy="195.9" r="1.6"/><circle cx="452.8" cy="200.8" r="1.6"/><circle cx="450.4" cy="198.3" r="1.6"/><circle cx="450.0" cy="198.9" r="1.6"/><circle cx="454.9" cy="198.6" r="1.6"/><circle cx="457.4" cy="206.3" r="1.6"/><circle cx="455.1" cy="210.1" r="1.6"/><circle cx="454.9" cy="206.7" r="1.6"/><circle cx="454.4" cy="209.2" r="1.6"/><circle cx="441.5" cy="215.0" r="1.6"/><circle cx="443.0" cy="231.0" r="1.6"/><circle cx="461.0" cy="226.0" r="1.6"/><circle cx="451.7" cy="251.2" r="1.6"/><circle cx="460.4" cy="242.0" r="1.6"/><circle cx="450.6" cy="244.5" r="1.6"/><circle cx="452.8" cy="246.5" r="1.6"/><circle cx="455.2" cy="240.5" r="1.6"/><circle cx="450.0" cy="244.4" r="1.6"/><circle cx="456.3" cy="242.3" r="1.6"/><circle cx="456.6" cy="250.2" r="1.6"/><circle cx="453.3" cy="239.4" r="1.6"/><circle cx="461.0" cy="252.9" r="1.6"/><circle cx="496.2" cy="132.2" r="1.6"/><circle cx="500.5" cy="141.8" r="1.6"/><circle cx="503.1" cy="140.4" r="1.6"/><circle cx="507.1" cy="135.7" r="1.6"/><circle cx="498.8" cy="139.5" r="1.6"/><circle cx="504.8" cy="136.1" r="1.6"/><circle cx="501.0" cy="139.0" r="1.6"/><circle cx="511.7" cy="136.7" r="1.6"/><circle cx="503.9" cy="167.7" r="1.6"/><circle cx="503.3" cy="168.6" r="1.6"/><circle cx="498.3" cy="172.1" r="1.6"/><circle cx="499.9" cy="171.9" r="1.6"/><circle cx="505.5" cy="170.4" r="1.6"/><circle cx="502.9" cy="168.7" r="1.6"/><circle cx="510.6" cy="172.2" r="1.6"/><circle cx="500.7" cy="166.2" r="1.6"/><circle cx="491.4" cy="169.6" r="1.6"/><circle cx="500.7" cy="169.8" r="1.6"/><circle cx="503.5" cy="168.3" r="1.6"/><circle cx="504.0" cy="170.8" r="1.6"/><circle cx="502.5" cy="168.8" r="1.6"/><circle cx="498.5" cy="168.4" r="1.6"/><circle cx="509.0" cy="175.0" r="1.6"/><circle cx="499.2" cy="172.3" r="1.6"/><circle cx="505.4" cy="173.5" r="1.6"/><circle cx="500.9" cy="170.6" r="1.6"/><circle cx="496.8" cy="172.9" r="1.6"/><circle cx="508.6" cy="172.4" r="1.6"/><circle cx="490.9" cy="173.5" r="1.6"/><circle cx="498.4" cy="176.4" r="1.6"/><circle cx="504.2" cy="169.9" r="1.6"/><circle cx="500.6" cy="171.1" r="1.6"/><circle cx="505.6" cy="170.3" r="1.6"/><circle cx="501.8" cy="161.7" r="1.6"/><circle cx="500.2" cy="167.0" r="1.6"/><circle cx="512.0" cy="170.5" r="1.6"/><circle cx="501.3" cy="172.1" r="1.6"/><circle cx="501.5" cy="169.0" r="1.6"/><circle cx="514.9" cy="202.4" r="1.6"/><circle cx="501.3" cy="203.9" r="1.6"/><circle cx="499.7" cy="204.7" r="1.6"/><circle cx="507.5" cy="204.5" r="1.6"/><circle cx="505.7" cy="196.8" r="1.6"/><circle cx="502.2" cy="201.2" r="1.6"/><circle cx="501.3" cy="201.4" r="1.6"/><circle cx="504.3" cy="202.5" r="1.6"/><circle cx="506.1" cy="203.4" r="1.6"/><circle cx="505.8" cy="204.8" r="1.6"/><circle cx="509.2" cy="248.8" r="1.6"/><circle cx="504.0" cy="250.4" r="1.6"/><circle cx="495.1" cy="250.0" r="1.6"/><circle cx="502.9" cy="247.5" r="1.6"/><circle cx="507.1" cy="248.8" r="1.6"/><circle cx="501.1" cy="249.9" r="1.6"/><circle cx="507.4" cy="242.9" r="1.6"/><circle cx="505.2" cy="245.9" r="1.6"/><circle cx="504.3" cy="245.7" r="1.6"/><circle cx="501.2" cy="247.8" r="1.6"/><circle cx="500.1" cy="247.6" r="1.6"/><circle cx="501.2" cy="247.6" r="1.6"/><circle cx="546.4" cy="133.2" r="1.6"/><circle cx="554.7" cy="130.9" r="1.6"/><circle cx="554.9" cy="132.3" r="1.6"/><circle cx="554.0" cy="128.3" r="1.6"/><circle cx="549.1" cy="131.4" r="1.6"/><circle cx="561.2" cy="127.0" r="1.6"/><circle cx="559.8" cy="139.9" r="1.6"/><circle cx="548.1" cy="137.5" r="1.6"/><circle cx="549.6" cy="136.7" r="1.6"/><circle cx="556.8" cy="133.9" r="1.6"/><circle cx="545.9" cy="136.0" r="1.6"/><circle cx="552.5" cy="136.8" r="1.6"/><circle cx="569.4" cy="131.6" r="1.6"/><circle cx="557.4" cy="171.4" r="1.6"/><circle cx="557.4" cy="173.5" r="1.6"/><circle cx="555.6" cy="170.1" r="1.6"/><circle cx="546.2" cy="170.7" r="1.6"/><circle cx="556.6" cy="175.7" r="1.6"/><circle cx="547.2" cy="175.1" r="1.6"/><circle cx="550.0" cy="169.3" r="1.6"/><circle cx="558.0" cy="169.8" r="1.6"/><circle cx="545.7" cy="173.3" r="1.6"/><circle cx="553.7" cy="170.1" r="1.6"/><circle cx="551.4" cy="172.0" r="1.6"/><circle cx="549.6" cy="171.6" r="1.6"/><circle cx="546.5" cy="173.6" r="1.6"/><circle cx="552.0" cy="167.4" r="1.6"/><circle cx="548.3" cy="168.1" r="1.6"/><circle cx="554.6" cy="170.0" r="1.6"/><circle cx="555.3" cy="174.5" r="1.6"/><circle cx="544.4" cy="172.2" r="1.6"/><circle cx="548.1" cy="169.1" r="1.6"/><circle cx="548.9" cy="173.5" r="1.6"/><circle cx="545.2" cy="173.9" r="1.6"/><circle cx="545.5" cy="172.0" r="1.6"/><circle cx="550.6" cy="171.8" r="1.6"/><circle cx="549.3" cy="173.4" r="1.6"/><circle cx="543.3" cy="174.9" r="1.6"/><circle cx="548.2" cy="203.5" r="1.6"/><circle cx="546.6" cy="203.7" r="1.6"/><circle cx="554.0" cy="204.6" r="1.6"/><circle cx="543.1" cy="206.6" r="1.6"/><circle cx="541.8" cy="203.0" r="1.6"/><circle cx="547.3" cy="202.7" r="1.6"/><circle cx="560.2" cy="257.8" r="1.6"/><circle cx="551.2" cy="259.2" r="1.6"/><circle cx="547.1" cy="259.7" r="1.6"/><circle cx="555.1" cy="261.5" r="1.6"/><circle cx="554.6" cy="255.7" r="1.6"/><circle cx="556.3" cy="258.8" r="1.6"/><circle cx="558.7" cy="260.2" r="1.6"/><circle cx="547.3" cy="256.5" r="1.6"/><circle cx="555.6" cy="258.6" r="1.6"/><circle cx="556.0" cy="261.9" r="1.6"/><circle cx="551.2" cy="260.9" r="1.6"/><circle cx="552.2" cy="259.6" r="1.6"/><circle cx="538.7" cy="254.3" r="1.6"/><circle cx="548.8" cy="258.5" r="1.6"/><circle cx="558.7" cy="259.4" r="1.6"/><circle cx="543.7" cy="258.2" r="1.6"/><circle cx="593.4" cy="130.3" r="1.6"/><circle cx="594.0" cy="128.9" r="1.6"/><circle cx="596.2" cy="127.0" r="1.6"/><circle cx="592.9" cy="132.1" r="1.6"/><circle cx="604.6" cy="130.6" r="1.6"/><circle cx="592.5" cy="129.8" r="1.6"/><circle cx="594.9" cy="129.9" r="1.6"/><circle cx="596.7" cy="128.9" r="1.6"/><circle cx="598.1" cy="128.3" r="1.6"/><circle cx="601.4" cy="129.1" r="1.6"/><circle cx="601.5" cy="129.2" r="1.6"/><circle cx="596.8" cy="128.7" r="1.6"/><circle cx="596.4" cy="127.8" r="1.6"/><circle cx="598.2" cy="129.1" r="1.6"/><circle cx="601.5" cy="130.2" r="1.6"/><circle cx="604.8" cy="168.0" r="1.6"/><circle cx="600.5" cy="170.7" r="1.6"/><circle cx="596.6" cy="166.3" r="1.6"/><circle cx="602.8" cy="167.7" r="1.6"/><circle cx="598.7" cy="170.6" r="1.6"/><circle cx="600.6" cy="164.0" r="1.6"/><circle cx="599.0" cy="171.1" r="1.6"/><circle cx="593.9" cy="171.1" r="1.6"/><circle cx="601.9" cy="167.7" r="1.6"/><circle cx="598.7" cy="171.4" r="1.6"/><circle cx="594.0" cy="168.0" r="1.6"/><circle cx="595.0" cy="161.9" r="1.6"/><circle cx="601.9" cy="169.0" r="1.6"/><circle cx="596.6" cy="166.1" r="1.6"/><circle cx="598.2" cy="166.4" r="1.6"/><circle cx="600.7" cy="165.5" r="1.6"/><circle cx="598.6" cy="169.8" r="1.6"/><circle cx="591.9" cy="166.9" r="1.6"/><circle cx="600.6" cy="162.6" r="1.6"/><circle cx="601.8" cy="166.7" r="1.6"/><circle cx="597.2" cy="205.6" r="1.6"/><circle cx="608.0" cy="212.8" r="1.6"/><circle cx="599.4" cy="209.7" r="1.6"/><circle cx="601.0" cy="209.3" r="1.6"/><circle cx="599.1" cy="210.3" r="1.6"/><circle cx="601.5" cy="208.9" r="1.6"/><circle cx="600.3" cy="214.5" r="1.6"/><circle cx="599.8" cy="212.4" r="1.6"/><circle cx="592.0" cy="261.7" r="1.6"/><circle cx="603.0" cy="261.1" r="1.6"/><circle cx="602.7" cy="261.7" r="1.6"/><circle cx="597.7" cy="263.1" r="1.6"/><circle cx="599.1" cy="262.5" r="1.6"/><circle cx="600.3" cy="262.1" r="1.6"/><circle cx="605.2" cy="262.9" r="1.6"/><circle cx="600.8" cy="262.0" r="1.6"/><circle cx="599.4" cy="261.5" r="1.6"/><circle cx="597.3" cy="262.5" r="1.6"/><circle cx="593.5" cy="258.1" r="1.6"/><circle cx="596.9" cy="264.1" r="1.6"/><circle cx="647.0" cy="110.6" r="1.6"/><circle cx="644.4" cy="115.0" r="1.6"/><circle cx="629.0" cy="127.0" r="1.6"/><circle cx="648.2" cy="133.6" r="1.6"/><circle cx="644.2" cy="124.2" r="1.6"/><circle cx="656.9" cy="126.0" r="1.6"/><circle cx="645.8" cy="123.8" r="1.6"/><circle cx="639.8" cy="126.9" r="1.6"/><circle cx="640.2" cy="123.2" r="1.6"/><circle cx="641.3" cy="126.6" r="1.6"/><circle cx="647.0" cy="129.5" r="1.6"/><circle cx="646.3" cy="127.2" r="1.6"/><circle cx="651.6" cy="126.0" r="1.6"/><circle cx="647.2" cy="130.7" r="1.6"/><circle cx="647.0" cy="124.3" r="1.6"/><circle cx="648.0" cy="129.2" r="1.6"/><circle cx="645.5" cy="125.9" r="1.6"/><circle cx="647.9" cy="127.2" r="1.6"/><circle cx="650.6" cy="126.7" r="1.6"/><circle cx="650.6" cy="127.0" r="1.6"/><circle cx="643.2" cy="126.5" r="1.6"/><circle cx="636.5" cy="124.6" r="1.6"/><circle cx="641.8" cy="125.2" r="1.6"/><circle cx="647.8" cy="127.8" r="1.6"/><circle cx="633.4" cy="126.3" r="1.6"/><circle cx="643.6" cy="123.6" r="1.6"/><circle cx="648.7" cy="124.8" r="1.6"/><circle cx="643.1" cy="124.8" r="1.6"/><circle cx="640.1" cy="126.5" r="1.6"/><circle cx="655.9" cy="127.1" r="1.6"/><circle cx="653.8" cy="126.9" r="1.6"/><circle cx="644.8" cy="124.9" r="1.6"/><circle cx="653.5" cy="126.7" r="1.6"/><circle cx="653.4" cy="123.1" r="1.6"/><circle cx="640.0" cy="119.1" r="1.6"/>
</g>
<g stroke-width="1.7" fill="none">
<path d="M58.8 113.7H84.8M107 135.9H132.5M167.2 128.7L359 134.6" stroke="#000" stroke-width="1.9"/>
<path d="M406.3 178.5L598.5 180.7" stroke="#22a022"/><path d="M633 162.3H658.9" stroke="#22a022" stroke-width="1.4"/>
<path d="M406.3 173.3L598.5 206.1" stroke="#d2922a"/><path d="M633 159.2H658.9" stroke="#d2922a" stroke-width="1.4"/>
<path d="M406.3 183.5L598.5 219" stroke="#a020f0"/><path d="M633 152.2H658.9" stroke="#a020f0" stroke-width="1.4"/>
</g>
<path d="M48.8 2.2V421.35H669.5M43.8 6.5H48.8M43.8 71.3H48.8M43.8 136.0H48.8M43.8 200.8H48.8M43.8 265.5H48.8M43.8 330.2H48.8M43.8 395.0H48.8M71.8 421.35V425.7M119.6 421.35V425.7M167.5 421.35V425.7M215.3 421.35V425.7M263.2 421.35V425.7M311.0 421.35V425.7M358.8 421.35V425.7M406.7 421.35V425.7M454.5 421.35V425.7M502.4 421.35V425.7M550.2 421.35V425.7M598.0 421.35V425.7M645.9 421.35V425.7" stroke="#555" stroke-width="1.4" fill="none" stroke-linejoin="round"/>
<g font-family="'Liberation Sans', Arial, Helvetica, sans-serif" fill="#000">
<g font-size="12" text-anchor="end">
<text x="42.2" y="11.5">2</text>
<text x="42.2" y="75.2">1</text>
<text x="42.2" y="139.9">0</text>
<text x="42.2" y="204.7">-1</text>
<text x="42.2" y="269.4">-2</text>
<text x="42.2" y="334.2">-3</text>
<text x="42.2" y="398.9">-4</text>
</g>
<g font-size="12" text-anchor="middle">
<text x="71.8" y="437.2">U</text>
<text x="119.6" y="437.2">R</text>
<text x="166.9" y="437.2">W<tspan font-size="7" dy="4.3">1</tspan></text>
<text x="214.7" y="437.2">W<tspan font-size="7" dy="4.3">2</tspan></text>
<text x="262.6" y="437.2">W<tspan font-size="7" dy="4.3">3</tspan></text>
<text x="310.4" y="437.2">W<tspan font-size="7" dy="4.3">4</tspan></text>
<text x="358.2" y="437.2">W<tspan font-size="7" dy="4.3">5</tspan></text>
<text x="406.1" y="437.2">X<tspan font-size="7" dy="4.3">1</tspan></text>
<text x="453.9" y="437.2">X<tspan font-size="7" dy="4.3">2</tspan></text>
<text x="501.8" y="437.2">X<tspan font-size="7" dy="4.3">3</tspan></text>
<text x="549.6" y="437.2">X<tspan font-size="7" dy="4.3">4</tspan></text>
<text x="597.4" y="437.2">X<tspan font-size="7" dy="4.3">5</tspan></text>
<text x="645.9" y="437.2">P</text>
</g>
<text x="359.1" y="464.7" font-size="16.6" text-anchor="middle">Phase</text>
<text transform="translate(14.5 196.2) rotate(-90)" font-size="16.7" text-anchor="middle">Δ FRC (middle plane)</text>
<g font-size="12.5">
<circle cx="60.2" cy="360.9" r="3" fill="#000"/><text x="71.9" y="365.6">All subjects</text>
<circle cx="60.2" cy="375.9" r="3" fill="#22a022"/><text x="71.9" y="380.6">Control (arms at sides)</text>
<circle cx="60.2" cy="391.0" r="3" fill="#daa520"/><text x="71.9" y="395.7">Restraint 1 (hands behind back)</text>
<circle cx="60.2" cy="406.0" r="3" fill="#a020f0"/><text x="71.9" y="410.7">Restraint 2 (hands behind head)</text>
</g></g></svg>
</body></html>
